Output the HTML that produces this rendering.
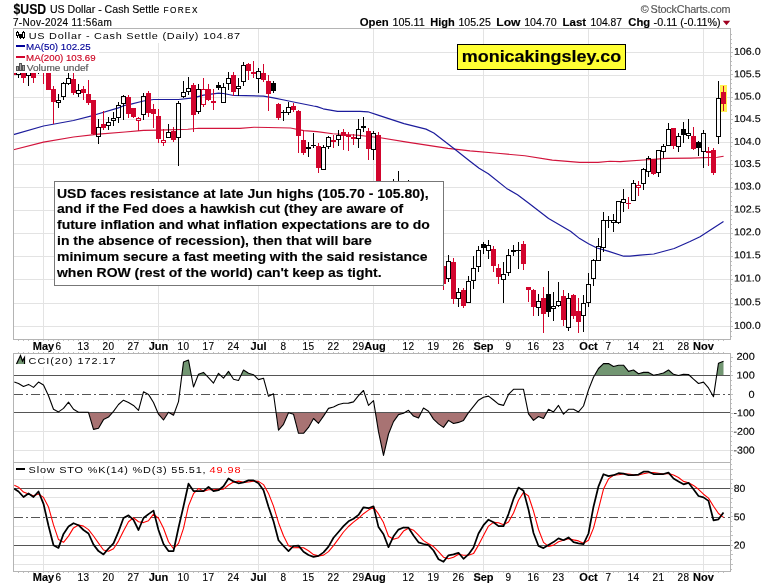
<!DOCTYPE html>
<html><head><meta charset="utf-8"><title>$USD</title><style>html,body{margin:0;padding:0;background:#fff}body{width:766px;height:586px;position:relative;overflow:hidden}svg{display:block}text{white-space:pre;font-family:"Liberation Sans",sans-serif}</style></head>
<body>
<svg width="766" height="586" viewBox="0 0 766 586" style="position:absolute;left:0;top:0">
<rect x="0" y="0" width="766" height="586" fill="#fff"/>
<g shape-rendering="crispEdges" stroke="#e3e3e3" stroke-width="1" fill="none">
<line x1="43.5" y1="28.5" x2="43.5" y2="339.5"/>
<line x1="43.5" y1="353.5" x2="43.5" y2="571.5"/>
<line x1="158.5" y1="28.5" x2="158.5" y2="339.5"/>
<line x1="158.5" y1="353.5" x2="158.5" y2="571.5"/>
<line x1="258.5" y1="28.5" x2="258.5" y2="339.5"/>
<line x1="258.5" y1="353.5" x2="258.5" y2="571.5"/>
<line x1="373.5" y1="28.5" x2="373.5" y2="339.5"/>
<line x1="373.5" y1="353.5" x2="373.5" y2="571.5"/>
<line x1="483.5" y1="28.5" x2="483.5" y2="339.5"/>
<line x1="483.5" y1="353.5" x2="483.5" y2="571.5"/>
<line x1="588.5" y1="28.5" x2="588.5" y2="339.5"/>
<line x1="588.5" y1="353.5" x2="588.5" y2="571.5"/>
<line x1="703.5" y1="28.5" x2="703.5" y2="339.5"/>
<line x1="703.5" y1="353.5" x2="703.5" y2="571.5"/>
<line x1="13.5" y1="52.5" x2="730.5" y2="52.5"/>
<line x1="13.5" y1="75.5" x2="730.5" y2="75.5"/>
<line x1="13.5" y1="97.5" x2="730.5" y2="97.5"/>
<line x1="13.5" y1="119.5" x2="730.5" y2="119.5"/>
<line x1="13.5" y1="142.5" x2="730.5" y2="142.5"/>
<line x1="13.5" y1="164.5" x2="730.5" y2="164.5"/>
<line x1="13.5" y1="187.5" x2="730.5" y2="187.5"/>
<line x1="13.5" y1="210.5" x2="730.5" y2="210.5"/>
<line x1="13.5" y1="233.5" x2="730.5" y2="233.5"/>
<line x1="13.5" y1="256.5" x2="730.5" y2="256.5"/>
<line x1="13.5" y1="279.5" x2="730.5" y2="279.5"/>
<line x1="13.5" y1="303.5" x2="730.5" y2="303.5"/>
<line x1="13.5" y1="326.5" x2="730.5" y2="326.5"/>
<line x1="13.5" y1="431.5" x2="730.5" y2="431.5"/>
<line x1="13.5" y1="450.5" x2="730.5" y2="450.5"/>
<line x1="13.5" y1="469.5" x2="730.5" y2="469.5"/>
<line x1="13.5" y1="479.5" x2="730.5" y2="479.5"/>
<line x1="13.5" y1="497.5" x2="730.5" y2="497.5"/>
<line x1="13.5" y1="507.5" x2="730.5" y2="507.5"/>
<line x1="13.5" y1="526.5" x2="730.5" y2="526.5"/>
<line x1="13.5" y1="536.5" x2="730.5" y2="536.5"/>
<line x1="13.5" y1="555.5" x2="730.5" y2="555.5"/>
<line x1="13.5" y1="564.5" x2="730.5" y2="564.5"/>
</g>
<polygon points="181.8,375.5 183.5,362.1 188.5,360.1 191.4,375.5" fill="#729672"/><polygon points="198.0,375.5 198.5,374.3 203.5,372.4 206.5,375.5" fill="#729672"/><polygon points="217.4,375.5 218.5,373.3 220.7,375.5" fill="#729672"/><polygon points="225.5,375.5 228.5,371.4 231.1,375.5" fill="#729672"/><polygon points="240.9,375.5 243.5,370.0 248.5,373.3 253.5,374.7 254.3,375.5" fill="#729672"/><polygon points="594.5,375.5 598.5,368.5 603.5,363.6 608.5,363.6 613.5,366.5 618.5,365.2 623.5,365.2 628.5,371.4 633.5,370.0 638.5,373.7 643.5,372.4 648.5,372.4 653.5,375.3 658.5,374.3 663.5,373.0 668.5,370.0 673.5,374.3 678.5,375.5" fill="#729672"/><polygon points="678.5,375.5 683.5,374.3 688.5,374.5 689.6,375.5" fill="#729672"/><polygon points="716.7,375.5 718.5,363.2 723.5,361.3 723.5,375.5" fill="#729672"/>
<polygon points="88.6,412.5 93.5,429.4 98.5,428.2 103.5,419.6 108.5,417.1 112.5,412.5" fill="#a87373"/><polygon points="157.8,412.5 158.5,414.2 163.5,420.0 168.4,412.5" fill="#a87373"/><polygon points="168.8,412.5 173.5,415.2 174.5,412.5" fill="#a87373"/><polygon points="276.1,412.5 278.5,430.2 283.5,424.3 288.5,412.8 293.5,414.2 298.5,433.3 303.5,433.3 308.5,427.4 313.5,418.5 318.5,423.3 323.5,416.1 325.8,412.5" fill="#a87373"/><polygon points="375.4,412.5 378.5,431.7 383.5,455.4 388.5,434.0 393.5,421.6 398.5,414.6 403.5,413.2 404.7,412.5" fill="#a87373"/><polygon points="410.4,412.5 413.5,416.1 418.5,418.1 421.3,412.5" fill="#a87373"/><polygon points="429.3,412.5 433.5,419.1 438.5,423.9 443.5,427.4 448.5,420.4 453.5,423.5 458.5,422.4 463.5,420.4 468.5,412.6 468.6,412.5" fill="#a87373"/><polygon points="528.2,412.5 528.5,413.8 533.5,420.4 538.5,416.5 543.5,418.5 546.8,412.5" fill="#a87373"/><polygon points="562.5,412.5 563.5,414.2 565.2,412.5" fill="#a87373"/>
<g shape-rendering="crispEdges" stroke="#555" stroke-width="1" fill="none">
<line x1="13.5" y1="375.5" x2="730.5" y2="375.5"/>
<line x1="13.5" y1="412.5" x2="730.5" y2="412.5"/>
<line x1="13.5" y1="394.5" x2="730.5" y2="394.5" stroke-dasharray="9 3 2 3"/>
<line x1="13.5" y1="488.5" x2="730.5" y2="488.5"/>
<line x1="13.5" y1="545.5" x2="730.5" y2="545.5"/>
<line x1="13.5" y1="517.5" x2="730.5" y2="517.5" stroke-dasharray="9 3 2 3"/>
</g>
<polyline points="13.5,149.8 43.5,142.1 73.5,137.0 98.6,134.1 125.0,132.0 143.5,130.4 158.5,130.1 187.8,129.3 198.8,128.2 240.0,128.4 254.0,127.2 268.3,127.5 290.4,128.0 303.8,130.6 317.0,131.6 332.8,133.8 358.0,135.3 380.4,137.7 407.0,142.1 448.0,148.4 470.0,150.9 497.4,153.3 524.8,155.8 552.3,160.1 579.7,162.4 598.0,162.4 610.0,161.3 620.0,161.6 643.5,160.0 667.0,158.4 690.7,158.1 717.4,157.3 723.6,156.2" fill="none" stroke="#d2143c" stroke-width="1.15" stroke-linejoin="round" />
<polyline points="13.5,134.6 43.5,126.0 73.5,120.5 93.6,115.3 118.4,107.9 125.0,105.3 130.0,104.4 143.5,101.0 153.5,99.5 178.5,99.5 193.5,97.9 203.5,95.2 218.6,93.2 223.5,93.5 233.5,95.5 245.0,95.6 263.5,96.2 273.5,97.8 284.0,100.0 293.5,102.0 313.5,106.0 317.0,106.6 323.2,108.8 337.5,111.3 360.0,111.3 367.9,111.8 378.8,115.4 404.0,123.6 426.0,129.1 433.8,133.0 454.2,148.7 470.0,161.3 479.1,168.3 488.3,173.8 506.6,188.4 517.5,194.8 528.5,203.0 548.6,218.5 570.5,231.3 579.7,238.6 588.5,243.8 597.0,248.0 608.0,251.1 623.7,256.2 630.0,256.2 640.0,255.1 653.8,254.0 674.2,248.5 690.0,241.5 700.0,236.7 723.5,221.5" fill="none" stroke="#1c1c9c" stroke-width="1.2" stroke-linejoin="round" />
<rect x="720" y="85" width="7" height="27" fill="#fff050" shape-rendering="crispEdges"/>
<g shape-rendering="crispEdges">
<rect x="14" y="66" width="2" height="9" fill="#d2042d"/>
<line x1="18.5" y1="66" x2="18.5" y2="68" stroke="#000" stroke-width="1"/>
<line x1="18.5" y1="75" x2="18.5" y2="78" stroke="#000" stroke-width="1"/>
<rect x="16.5" y="68.5" width="4" height="6" fill="none" stroke="#000" stroke-width="1"/>
<line x1="23.5" y1="68" x2="23.5" y2="83" stroke="#d2042d" stroke-width="1"/>
<rect x="21.0" y="70" width="5" height="8" fill="#d2042d"/>
<line x1="28.5" y1="66" x2="28.5" y2="68" stroke="#000" stroke-width="1"/>
<line x1="28.5" y1="76" x2="28.5" y2="86" stroke="#000" stroke-width="1"/>
<rect x="26.5" y="68.5" width="4" height="7" fill="none" stroke="#000" stroke-width="1"/>
<line x1="33.5" y1="68" x2="33.5" y2="83" stroke="#d2042d" stroke-width="1"/>
<rect x="31.0" y="70" width="5" height="8" fill="#d2042d"/>
<line x1="38.5" y1="66" x2="38.5" y2="74" stroke="#000" stroke-width="1"/>
<line x1="36.0" y1="70.5" x2="41.0" y2="70.5" stroke="#000" stroke-width="1"/>
<line x1="43.5" y1="66" x2="43.5" y2="84" stroke="#d2042d" stroke-width="1"/>
<rect x="41.0" y="68" width="5" height="4" fill="#d2042d"/>
<line x1="48.5" y1="66" x2="48.5" y2="90" stroke="#d2042d" stroke-width="1"/>
<rect x="46.0" y="68" width="5" height="22" fill="#d2042d"/>
<line x1="53.5" y1="86" x2="53.5" y2="124" stroke="#d2042d" stroke-width="1"/>
<rect x="51.0" y="89" width="5" height="13" fill="#d2042d"/>
<line x1="58.5" y1="94" x2="58.5" y2="100" stroke="#000" stroke-width="1"/>
<line x1="58.5" y1="103" x2="58.5" y2="108" stroke="#000" stroke-width="1"/>
<rect x="56.5" y="100.5" width="4" height="2" fill="none" stroke="#000" stroke-width="1"/>
<line x1="63.5" y1="82" x2="63.5" y2="83" stroke="#000" stroke-width="1"/>
<line x1="63.5" y1="97" x2="63.5" y2="100" stroke="#000" stroke-width="1"/>
<rect x="61.5" y="83.5" width="4" height="13" fill="none" stroke="#000" stroke-width="1"/>
<line x1="68.5" y1="73" x2="68.5" y2="78" stroke="#000" stroke-width="1"/>
<line x1="68.5" y1="84" x2="68.5" y2="85" stroke="#000" stroke-width="1"/>
<rect x="66.5" y="78.5" width="4" height="5" fill="none" stroke="#000" stroke-width="1"/>
<line x1="73.5" y1="73" x2="73.5" y2="95" stroke="#d2042d" stroke-width="1"/>
<rect x="71.0" y="79" width="5" height="14" fill="#d2042d"/>
<line x1="78.5" y1="84" x2="78.5" y2="90" stroke="#000" stroke-width="1"/>
<line x1="78.5" y1="94" x2="78.5" y2="97" stroke="#000" stroke-width="1"/>
<rect x="76.5" y="90.5" width="4" height="3" fill="none" stroke="#000" stroke-width="1"/>
<line x1="83.5" y1="86" x2="83.5" y2="100" stroke="#d2042d" stroke-width="1"/>
<rect x="81.0" y="89" width="5" height="4" fill="#d2042d"/>
<line x1="88.5" y1="80" x2="88.5" y2="105" stroke="#d2042d" stroke-width="1"/>
<rect x="86.0" y="94" width="5" height="9" fill="#d2042d"/>
<line x1="93.5" y1="100" x2="93.5" y2="135" stroke="#d2042d" stroke-width="1"/>
<rect x="91.0" y="100" width="5" height="34" fill="#d2042d"/>
<line x1="98.5" y1="119" x2="98.5" y2="127" stroke="#000" stroke-width="1"/>
<line x1="98.5" y1="137" x2="98.5" y2="144" stroke="#000" stroke-width="1"/>
<rect x="96.5" y="127.5" width="4" height="9" fill="none" stroke="#000" stroke-width="1"/>
<line x1="103.5" y1="111" x2="103.5" y2="130" stroke="#d2042d" stroke-width="1"/>
<rect x="101.0" y="124" width="5" height="4" fill="#d2042d"/>
<line x1="108.5" y1="117" x2="108.5" y2="122" stroke="#000" stroke-width="1"/>
<line x1="108.5" y1="126" x2="108.5" y2="130" stroke="#000" stroke-width="1"/>
<rect x="106.5" y="122.5" width="4" height="3" fill="none" stroke="#000" stroke-width="1"/>
<line x1="113.5" y1="112" x2="113.5" y2="118" stroke="#000" stroke-width="1"/>
<line x1="113.5" y1="120" x2="113.5" y2="126" stroke="#000" stroke-width="1"/>
<rect x="111.5" y="118.5" width="4" height="2" fill="none" stroke="#000" stroke-width="1"/>
<line x1="118.5" y1="102" x2="118.5" y2="105" stroke="#000" stroke-width="1"/>
<line x1="118.5" y1="118" x2="118.5" y2="123" stroke="#000" stroke-width="1"/>
<rect x="116.5" y="105.5" width="4" height="12" fill="none" stroke="#000" stroke-width="1"/>
<line x1="123.5" y1="95" x2="123.5" y2="96" stroke="#000" stroke-width="1"/>
<line x1="123.5" y1="104" x2="123.5" y2="120" stroke="#000" stroke-width="1"/>
<rect x="121.5" y="96.5" width="4" height="7" fill="none" stroke="#000" stroke-width="1"/>
<line x1="128.5" y1="95" x2="128.5" y2="118" stroke="#d2042d" stroke-width="1"/>
<rect x="126.0" y="97" width="5" height="17" fill="#d2042d"/>
<line x1="133.5" y1="108" x2="133.5" y2="118" stroke="#d2042d" stroke-width="1"/>
<rect x="131.0" y="108" width="5" height="9" fill="#d2042d"/>
<line x1="138.5" y1="117" x2="138.5" y2="118" stroke="#d2042d" stroke-width="1"/>
<line x1="138.5" y1="120" x2="138.5" y2="131" stroke="#d2042d" stroke-width="1"/>
<rect x="136.5" y="118.5" width="4" height="2" fill="none" stroke="#d2042d" stroke-width="1"/>
<line x1="143.5" y1="93" x2="143.5" y2="96" stroke="#000" stroke-width="1"/>
<line x1="143.5" y1="115" x2="143.5" y2="120" stroke="#000" stroke-width="1"/>
<rect x="141.5" y="96.5" width="4" height="18" fill="none" stroke="#000" stroke-width="1"/>
<line x1="148.5" y1="91" x2="148.5" y2="117" stroke="#d2042d" stroke-width="1"/>
<rect x="146.0" y="93" width="5" height="20" fill="#d2042d"/>
<line x1="153.5" y1="104" x2="153.5" y2="128" stroke="#d2042d" stroke-width="1"/>
<rect x="151.0" y="109" width="5" height="5" fill="#d2042d"/>
<line x1="158.5" y1="109" x2="158.5" y2="143" stroke="#d2042d" stroke-width="1"/>
<rect x="156.0" y="116" width="5" height="23" fill="#d2042d"/>
<line x1="163.5" y1="129" x2="163.5" y2="140" stroke="#d2042d" stroke-width="1"/>
<line x1="163.5" y1="142" x2="163.5" y2="146" stroke="#d2042d" stroke-width="1"/>
<rect x="161.5" y="140.5" width="4" height="2" fill="none" stroke="#d2042d" stroke-width="1"/>
<line x1="168.5" y1="124" x2="168.5" y2="132" stroke="#000" stroke-width="1"/>
<line x1="168.5" y1="138" x2="168.5" y2="138" stroke="#000" stroke-width="1"/>
<rect x="166.5" y="132.5" width="4" height="5" fill="none" stroke="#000" stroke-width="1"/>
<line x1="173.5" y1="127" x2="173.5" y2="142" stroke="#d2042d" stroke-width="1"/>
<rect x="171.0" y="131" width="5" height="9" fill="#d2042d"/>
<line x1="178.5" y1="101" x2="178.5" y2="103" stroke="#000" stroke-width="1"/>
<line x1="178.5" y1="138" x2="178.5" y2="166" stroke="#000" stroke-width="1"/>
<rect x="176.5" y="103.5" width="4" height="34" fill="none" stroke="#000" stroke-width="1"/>
<line x1="183.5" y1="81" x2="183.5" y2="92" stroke="#000" stroke-width="1"/>
<line x1="183.5" y1="97" x2="183.5" y2="98" stroke="#000" stroke-width="1"/>
<rect x="181.5" y="92.5" width="4" height="4" fill="none" stroke="#000" stroke-width="1"/>
<line x1="188.5" y1="77" x2="188.5" y2="88" stroke="#000" stroke-width="1"/>
<line x1="188.5" y1="92" x2="188.5" y2="95" stroke="#000" stroke-width="1"/>
<rect x="186.5" y="88.5" width="4" height="3" fill="none" stroke="#000" stroke-width="1"/>
<line x1="193.5" y1="83" x2="193.5" y2="132" stroke="#d2042d" stroke-width="1"/>
<rect x="191.0" y="85" width="5" height="30" fill="#d2042d"/>
<line x1="198.5" y1="84" x2="198.5" y2="89" stroke="#000" stroke-width="1"/>
<line x1="198.5" y1="112" x2="198.5" y2="114" stroke="#000" stroke-width="1"/>
<rect x="196.5" y="89.5" width="4" height="22" fill="none" stroke="#000" stroke-width="1"/>
<line x1="203.5" y1="78" x2="203.5" y2="89" stroke="#d2042d" stroke-width="1"/>
<line x1="203.5" y1="105" x2="203.5" y2="107" stroke="#d2042d" stroke-width="1"/>
<rect x="201.5" y="89.5" width="4" height="15" fill="none" stroke="#d2042d" stroke-width="1"/>
<line x1="208.5" y1="84" x2="208.5" y2="101" stroke="#d2042d" stroke-width="1"/>
<rect x="206.0" y="89" width="5" height="11" fill="#d2042d"/>
<line x1="213.5" y1="89" x2="213.5" y2="110" stroke="#d2042d" stroke-width="1"/>
<rect x="211.0" y="101" width="5" height="2" fill="#d2042d"/>
<line x1="218.5" y1="82" x2="218.5" y2="90" stroke="#000" stroke-width="1"/>
<rect x="216.0" y="85" width="5" height="3" fill="#000"/>
<line x1="223.5" y1="83" x2="223.5" y2="87" stroke="#000" stroke-width="1"/>
<line x1="223.5" y1="103" x2="223.5" y2="103" stroke="#000" stroke-width="1"/>
<rect x="221.5" y="87.5" width="4" height="15" fill="none" stroke="#000" stroke-width="1"/>
<line x1="228.5" y1="72" x2="228.5" y2="78" stroke="#000" stroke-width="1"/>
<line x1="228.5" y1="84" x2="228.5" y2="90" stroke="#000" stroke-width="1"/>
<rect x="226.5" y="78.5" width="4" height="5" fill="none" stroke="#000" stroke-width="1"/>
<line x1="233.5" y1="72" x2="233.5" y2="96" stroke="#d2042d" stroke-width="1"/>
<rect x="231.0" y="75" width="5" height="17" fill="#d2042d"/>
<line x1="238.5" y1="78" x2="238.5" y2="86" stroke="#000" stroke-width="1"/>
<line x1="238.5" y1="89" x2="238.5" y2="96" stroke="#000" stroke-width="1"/>
<rect x="236.5" y="86.5" width="4" height="2" fill="none" stroke="#000" stroke-width="1"/>
<line x1="243.5" y1="62" x2="243.5" y2="65" stroke="#000" stroke-width="1"/>
<line x1="243.5" y1="82" x2="243.5" y2="86" stroke="#000" stroke-width="1"/>
<rect x="241.5" y="65.5" width="4" height="16" fill="none" stroke="#000" stroke-width="1"/>
<line x1="248.5" y1="63" x2="248.5" y2="80" stroke="#d2042d" stroke-width="1"/>
<rect x="246.0" y="64" width="5" height="7" fill="#d2042d"/>
<line x1="253.5" y1="61" x2="253.5" y2="78" stroke="#d2042d" stroke-width="1"/>
<rect x="251.0" y="72" width="5" height="2" fill="#d2042d"/>
<line x1="258.5" y1="68" x2="258.5" y2="71" stroke="#000" stroke-width="1"/>
<line x1="258.5" y1="79" x2="258.5" y2="93" stroke="#000" stroke-width="1"/>
<rect x="256.5" y="71.5" width="4" height="7" fill="none" stroke="#000" stroke-width="1"/>
<line x1="263.5" y1="64" x2="263.5" y2="82" stroke="#d2042d" stroke-width="1"/>
<rect x="261.0" y="73" width="5" height="7" fill="#d2042d"/>
<line x1="268.5" y1="75" x2="268.5" y2="111" stroke="#d2042d" stroke-width="1"/>
<rect x="266.0" y="81" width="5" height="13" fill="#d2042d"/>
<line x1="273.5" y1="81" x2="273.5" y2="93" stroke="#000" stroke-width="1"/>
<rect x="271.0" y="83" width="5" height="8" fill="#000"/>
<line x1="278.5" y1="103" x2="278.5" y2="120" stroke="#d2042d" stroke-width="1"/>
<rect x="276.0" y="104" width="5" height="14" fill="#d2042d"/>
<line x1="283.5" y1="110" x2="283.5" y2="121" stroke="#000" stroke-width="1"/>
<line x1="281.0" y1="112.5" x2="286.0" y2="112.5" stroke="#000" stroke-width="1"/>
<line x1="288.5" y1="102" x2="288.5" y2="107" stroke="#000" stroke-width="1"/>
<line x1="288.5" y1="113" x2="288.5" y2="115" stroke="#000" stroke-width="1"/>
<rect x="286.5" y="107.5" width="4" height="5" fill="none" stroke="#000" stroke-width="1"/>
<line x1="293.5" y1="103" x2="293.5" y2="112" stroke="#d2042d" stroke-width="1"/>
<rect x="291.0" y="106" width="5" height="4" fill="#d2042d"/>
<line x1="298.5" y1="110" x2="298.5" y2="153" stroke="#d2042d" stroke-width="1"/>
<rect x="296.0" y="111" width="5" height="25" fill="#d2042d"/>
<line x1="303.5" y1="131" x2="303.5" y2="155" stroke="#d2042d" stroke-width="1"/>
<rect x="301.0" y="140" width="5" height="13" fill="#d2042d"/>
<line x1="308.5" y1="142" x2="308.5" y2="157" stroke="#000" stroke-width="1"/>
<rect x="306.0" y="147" width="5" height="2" fill="#000"/>
<line x1="313.5" y1="133" x2="313.5" y2="148" stroke="#000" stroke-width="1"/>
<line x1="311.0" y1="145.5" x2="316.0" y2="145.5" stroke="#000" stroke-width="1"/>
<line x1="318.5" y1="143" x2="318.5" y2="173" stroke="#d2042d" stroke-width="1"/>
<rect x="316.0" y="146" width="5" height="22" fill="#d2042d"/>
<line x1="323.5" y1="145" x2="323.5" y2="147" stroke="#000" stroke-width="1"/>
<line x1="323.5" y1="170" x2="323.5" y2="170" stroke="#000" stroke-width="1"/>
<rect x="321.5" y="147.5" width="4" height="22" fill="none" stroke="#000" stroke-width="1"/>
<line x1="328.5" y1="136" x2="328.5" y2="137" stroke="#000" stroke-width="1"/>
<line x1="328.5" y1="147" x2="328.5" y2="149" stroke="#000" stroke-width="1"/>
<rect x="326.5" y="137.5" width="4" height="9" fill="none" stroke="#000" stroke-width="1"/>
<line x1="333.5" y1="135" x2="333.5" y2="148" stroke="#d2042d" stroke-width="1"/>
<rect x="331.0" y="140" width="5" height="2" fill="#d2042d"/>
<line x1="338.5" y1="130" x2="338.5" y2="135" stroke="#000" stroke-width="1"/>
<line x1="338.5" y1="140" x2="338.5" y2="146" stroke="#000" stroke-width="1"/>
<rect x="336.5" y="135.5" width="4" height="4" fill="none" stroke="#000" stroke-width="1"/>
<line x1="343.5" y1="129" x2="343.5" y2="150" stroke="#d2042d" stroke-width="1"/>
<rect x="341.0" y="132" width="5" height="4" fill="#d2042d"/>
<line x1="348.5" y1="132" x2="348.5" y2="151" stroke="#d2042d" stroke-width="1"/>
<rect x="346.0" y="135" width="5" height="2" fill="#d2042d"/>
<line x1="353.5" y1="134" x2="353.5" y2="145" stroke="#d2042d" stroke-width="1"/>
<rect x="351.0" y="137" width="5" height="2" fill="#d2042d"/>
<line x1="358.5" y1="119" x2="358.5" y2="129" stroke="#000" stroke-width="1"/>
<line x1="358.5" y1="139" x2="358.5" y2="148" stroke="#000" stroke-width="1"/>
<rect x="356.5" y="129.5" width="4" height="9" fill="none" stroke="#000" stroke-width="1"/>
<line x1="363.5" y1="117" x2="363.5" y2="132" stroke="#000" stroke-width="1"/>
<rect x="361.0" y="126" width="5" height="2" fill="#000"/>
<line x1="368.5" y1="128" x2="368.5" y2="160" stroke="#d2042d" stroke-width="1"/>
<rect x="366.0" y="131" width="5" height="18" fill="#d2042d"/>
<line x1="373.5" y1="131" x2="373.5" y2="133" stroke="#000" stroke-width="1"/>
<line x1="373.5" y1="150" x2="373.5" y2="160" stroke="#000" stroke-width="1"/>
<rect x="371.5" y="133.5" width="4" height="16" fill="none" stroke="#000" stroke-width="1"/>
<line x1="378.5" y1="132" x2="378.5" y2="200" stroke="#d2042d" stroke-width="1"/>
<rect x="376.0" y="135" width="5" height="65" fill="#d2042d"/>
<line x1="393.5" y1="179" x2="393.5" y2="190" stroke="#000" stroke-width="1"/>
<line x1="391.0" y1="190.5" x2="396.0" y2="190.5" stroke="#000" stroke-width="1"/>
<line x1="398.5" y1="171" x2="398.5" y2="190" stroke="#000" stroke-width="1"/>
<line x1="396.0" y1="190.5" x2="401.0" y2="190.5" stroke="#000" stroke-width="1"/>
<line x1="408.5" y1="180" x2="408.5" y2="190" stroke="#000" stroke-width="1"/>
<line x1="406.0" y1="190.5" x2="411.0" y2="190.5" stroke="#000" stroke-width="1"/>
<line x1="443.5" y1="265" x2="443.5" y2="290" stroke="#d2042d" stroke-width="1"/>
<rect x="441.0" y="266" width="5" height="18" fill="#d2042d"/>
<line x1="448.5" y1="255" x2="448.5" y2="261" stroke="#000" stroke-width="1"/>
<line x1="448.5" y1="279" x2="448.5" y2="282" stroke="#000" stroke-width="1"/>
<rect x="446.5" y="261.5" width="4" height="17" fill="none" stroke="#000" stroke-width="1"/>
<line x1="453.5" y1="258" x2="453.5" y2="304" stroke="#d2042d" stroke-width="1"/>
<rect x="451.0" y="262" width="5" height="37" fill="#d2042d"/>
<line x1="458.5" y1="288" x2="458.5" y2="292" stroke="#000" stroke-width="1"/>
<line x1="458.5" y1="299" x2="458.5" y2="307" stroke="#000" stroke-width="1"/>
<rect x="456.5" y="292.5" width="4" height="6" fill="none" stroke="#000" stroke-width="1"/>
<line x1="463.5" y1="288" x2="463.5" y2="308" stroke="#d2042d" stroke-width="1"/>
<rect x="461.0" y="290" width="5" height="16" fill="#d2042d"/>
<line x1="468.5" y1="276" x2="468.5" y2="281" stroke="#000" stroke-width="1"/>
<line x1="468.5" y1="303" x2="468.5" y2="303" stroke="#000" stroke-width="1"/>
<rect x="466.5" y="281.5" width="4" height="21" fill="none" stroke="#000" stroke-width="1"/>
<line x1="473.5" y1="256" x2="473.5" y2="268" stroke="#000" stroke-width="1"/>
<line x1="473.5" y1="281" x2="473.5" y2="289" stroke="#000" stroke-width="1"/>
<rect x="471.5" y="268.5" width="4" height="12" fill="none" stroke="#000" stroke-width="1"/>
<line x1="478.5" y1="246" x2="478.5" y2="250" stroke="#000" stroke-width="1"/>
<line x1="478.5" y1="267" x2="478.5" y2="272" stroke="#000" stroke-width="1"/>
<rect x="476.5" y="250.5" width="4" height="16" fill="none" stroke="#000" stroke-width="1"/>
<line x1="483.5" y1="242" x2="483.5" y2="254" stroke="#000" stroke-width="1"/>
<rect x="481.0" y="244" width="5" height="4" fill="#000"/>
<line x1="488.5" y1="240" x2="488.5" y2="245" stroke="#000" stroke-width="1"/>
<line x1="488.5" y1="251" x2="488.5" y2="259" stroke="#000" stroke-width="1"/>
<rect x="486.5" y="245.5" width="4" height="5" fill="none" stroke="#000" stroke-width="1"/>
<line x1="493.5" y1="246" x2="493.5" y2="272" stroke="#d2042d" stroke-width="1"/>
<rect x="491.0" y="249" width="5" height="17" fill="#d2042d"/>
<line x1="498.5" y1="264" x2="498.5" y2="284" stroke="#d2042d" stroke-width="1"/>
<rect x="496.0" y="268" width="5" height="9" fill="#d2042d"/>
<line x1="503.5" y1="262" x2="503.5" y2="274" stroke="#000" stroke-width="1"/>
<line x1="503.5" y1="280" x2="503.5" y2="303" stroke="#000" stroke-width="1"/>
<rect x="501.5" y="274.5" width="4" height="5" fill="none" stroke="#000" stroke-width="1"/>
<line x1="508.5" y1="249" x2="508.5" y2="255" stroke="#000" stroke-width="1"/>
<line x1="508.5" y1="273" x2="508.5" y2="276" stroke="#000" stroke-width="1"/>
<rect x="506.5" y="255.5" width="4" height="17" fill="none" stroke="#000" stroke-width="1"/>
<line x1="513.5" y1="245" x2="513.5" y2="256" stroke="#000" stroke-width="1"/>
<rect x="511.0" y="250" width="5" height="2" fill="#000"/>
<line x1="518.5" y1="242" x2="518.5" y2="269" stroke="#000" stroke-width="1"/>
<line x1="516.0" y1="250.5" x2="521.0" y2="250.5" stroke="#000" stroke-width="1"/>
<line x1="523.5" y1="241" x2="523.5" y2="270" stroke="#d2042d" stroke-width="1"/>
<rect x="521.0" y="244" width="5" height="20" fill="#d2042d"/>
<line x1="528.5" y1="287" x2="528.5" y2="302" stroke="#d2042d" stroke-width="1"/>
<rect x="526.0" y="287" width="5" height="3" fill="#d2042d"/>
<line x1="533.5" y1="289" x2="533.5" y2="316" stroke="#d2042d" stroke-width="1"/>
<rect x="531.0" y="290" width="5" height="17" fill="#d2042d"/>
<line x1="538.5" y1="294" x2="538.5" y2="301" stroke="#000" stroke-width="1"/>
<line x1="538.5" y1="308" x2="538.5" y2="316" stroke="#000" stroke-width="1"/>
<rect x="536.5" y="301.5" width="4" height="6" fill="none" stroke="#000" stroke-width="1"/>
<line x1="543.5" y1="287" x2="543.5" y2="333" stroke="#d2042d" stroke-width="1"/>
<rect x="541.0" y="298" width="5" height="16" fill="#d2042d"/>
<line x1="548.5" y1="271" x2="548.5" y2="317" stroke="#000" stroke-width="1"/>
<rect x="546.0" y="294" width="5" height="18" fill="#000"/>
<line x1="553.5" y1="292" x2="553.5" y2="306" stroke="#000" stroke-width="1"/>
<line x1="553.5" y1="308" x2="553.5" y2="321" stroke="#000" stroke-width="1"/>
<rect x="551.5" y="306.5" width="4" height="2" fill="none" stroke="#000" stroke-width="1"/>
<line x1="558.5" y1="282" x2="558.5" y2="301" stroke="#000" stroke-width="1"/>
<line x1="558.5" y1="306" x2="558.5" y2="307" stroke="#000" stroke-width="1"/>
<rect x="556.5" y="301.5" width="4" height="4" fill="none" stroke="#000" stroke-width="1"/>
<line x1="563.5" y1="290" x2="563.5" y2="326" stroke="#d2042d" stroke-width="1"/>
<rect x="561.0" y="296" width="5" height="24" fill="#d2042d"/>
<line x1="568.5" y1="293" x2="568.5" y2="298" stroke="#000" stroke-width="1"/>
<line x1="568.5" y1="328" x2="568.5" y2="331" stroke="#000" stroke-width="1"/>
<rect x="566.5" y="298.5" width="4" height="29" fill="none" stroke="#000" stroke-width="1"/>
<line x1="573.5" y1="294" x2="573.5" y2="319" stroke="#d2042d" stroke-width="1"/>
<rect x="571.0" y="295" width="5" height="21" fill="#d2042d"/>
<line x1="578.5" y1="298" x2="578.5" y2="333" stroke="#d2042d" stroke-width="1"/>
<rect x="576.0" y="311" width="5" height="11" fill="#d2042d"/>
<line x1="583.5" y1="295" x2="583.5" y2="303" stroke="#000" stroke-width="1"/>
<line x1="583.5" y1="316" x2="583.5" y2="332" stroke="#000" stroke-width="1"/>
<rect x="581.5" y="303.5" width="4" height="12" fill="none" stroke="#000" stroke-width="1"/>
<line x1="588.5" y1="273" x2="588.5" y2="284" stroke="#000" stroke-width="1"/>
<line x1="588.5" y1="303" x2="588.5" y2="307" stroke="#000" stroke-width="1"/>
<rect x="586.5" y="284.5" width="4" height="18" fill="none" stroke="#000" stroke-width="1"/>
<line x1="593.5" y1="259" x2="593.5" y2="260" stroke="#000" stroke-width="1"/>
<line x1="593.5" y1="279" x2="593.5" y2="286" stroke="#000" stroke-width="1"/>
<rect x="591.5" y="260.5" width="4" height="18" fill="none" stroke="#000" stroke-width="1"/>
<line x1="598.5" y1="238" x2="598.5" y2="246" stroke="#000" stroke-width="1"/>
<line x1="598.5" y1="261" x2="598.5" y2="261" stroke="#000" stroke-width="1"/>
<rect x="596.5" y="246.5" width="4" height="14" fill="none" stroke="#000" stroke-width="1"/>
<line x1="603.5" y1="212" x2="603.5" y2="220" stroke="#000" stroke-width="1"/>
<line x1="603.5" y1="248" x2="603.5" y2="252" stroke="#000" stroke-width="1"/>
<rect x="601.5" y="220.5" width="4" height="27" fill="none" stroke="#000" stroke-width="1"/>
<line x1="608.5" y1="216" x2="608.5" y2="228" stroke="#000" stroke-width="1"/>
<line x1="606.0" y1="220.5" x2="611.0" y2="220.5" stroke="#000" stroke-width="1"/>
<line x1="613.5" y1="214" x2="613.5" y2="220" stroke="#000" stroke-width="1"/>
<line x1="613.5" y1="222" x2="613.5" y2="232" stroke="#000" stroke-width="1"/>
<rect x="611.5" y="220.5" width="4" height="2" fill="none" stroke="#000" stroke-width="1"/>
<line x1="618.5" y1="201" x2="618.5" y2="201" stroke="#000" stroke-width="1"/>
<line x1="618.5" y1="223" x2="618.5" y2="224" stroke="#000" stroke-width="1"/>
<rect x="616.5" y="201.5" width="4" height="21" fill="none" stroke="#000" stroke-width="1"/>
<line x1="623.5" y1="189" x2="623.5" y2="199" stroke="#000" stroke-width="1"/>
<line x1="623.5" y1="203" x2="623.5" y2="212" stroke="#000" stroke-width="1"/>
<rect x="621.5" y="199.5" width="4" height="3" fill="none" stroke="#000" stroke-width="1"/>
<line x1="628.5" y1="197" x2="628.5" y2="209" stroke="#d2042d" stroke-width="1"/>
<line x1="626.0" y1="203.5" x2="631.0" y2="203.5" stroke="#d2042d" stroke-width="1"/>
<line x1="633.5" y1="180" x2="633.5" y2="183" stroke="#000" stroke-width="1"/>
<line x1="633.5" y1="201" x2="633.5" y2="201" stroke="#000" stroke-width="1"/>
<rect x="631.5" y="183.5" width="4" height="17" fill="none" stroke="#000" stroke-width="1"/>
<line x1="638.5" y1="181" x2="638.5" y2="185" stroke="#d2042d" stroke-width="1"/>
<line x1="638.5" y1="187" x2="638.5" y2="196" stroke="#d2042d" stroke-width="1"/>
<rect x="636.5" y="185.5" width="4" height="2" fill="none" stroke="#d2042d" stroke-width="1"/>
<line x1="643.5" y1="168" x2="643.5" y2="169" stroke="#000" stroke-width="1"/>
<line x1="643.5" y1="184" x2="643.5" y2="190" stroke="#000" stroke-width="1"/>
<rect x="641.5" y="169.5" width="4" height="14" fill="none" stroke="#000" stroke-width="1"/>
<line x1="648.5" y1="156" x2="648.5" y2="158" stroke="#000" stroke-width="1"/>
<line x1="648.5" y1="172" x2="648.5" y2="177" stroke="#000" stroke-width="1"/>
<rect x="646.5" y="158.5" width="4" height="13" fill="none" stroke="#000" stroke-width="1"/>
<line x1="653.5" y1="159" x2="653.5" y2="175" stroke="#d2042d" stroke-width="1"/>
<rect x="651.0" y="159" width="5" height="15" fill="#d2042d"/>
<line x1="658.5" y1="150" x2="658.5" y2="150" stroke="#000" stroke-width="1"/>
<line x1="658.5" y1="173" x2="658.5" y2="177" stroke="#000" stroke-width="1"/>
<rect x="656.5" y="150.5" width="4" height="22" fill="none" stroke="#000" stroke-width="1"/>
<line x1="663.5" y1="144" x2="663.5" y2="146" stroke="#000" stroke-width="1"/>
<line x1="663.5" y1="152" x2="663.5" y2="158" stroke="#000" stroke-width="1"/>
<rect x="661.5" y="146.5" width="4" height="5" fill="none" stroke="#000" stroke-width="1"/>
<line x1="668.5" y1="123" x2="668.5" y2="129" stroke="#000" stroke-width="1"/>
<line x1="668.5" y1="146" x2="668.5" y2="146" stroke="#000" stroke-width="1"/>
<rect x="666.5" y="129.5" width="4" height="16" fill="none" stroke="#000" stroke-width="1"/>
<line x1="673.5" y1="128" x2="673.5" y2="149" stroke="#d2042d" stroke-width="1"/>
<rect x="671.0" y="128" width="5" height="18" fill="#d2042d"/>
<line x1="678.5" y1="133" x2="678.5" y2="136" stroke="#000" stroke-width="1"/>
<line x1="678.5" y1="147" x2="678.5" y2="152" stroke="#000" stroke-width="1"/>
<rect x="676.5" y="136.5" width="4" height="10" fill="none" stroke="#000" stroke-width="1"/>
<line x1="683.5" y1="122" x2="683.5" y2="143" stroke="#000" stroke-width="1"/>
<rect x="681.0" y="129" width="5" height="6" fill="#000"/>
<line x1="688.5" y1="119" x2="688.5" y2="133" stroke="#000" stroke-width="1"/>
<line x1="688.5" y1="136" x2="688.5" y2="139" stroke="#000" stroke-width="1"/>
<rect x="686.5" y="133.5" width="4" height="2" fill="none" stroke="#000" stroke-width="1"/>
<line x1="693.5" y1="127" x2="693.5" y2="150" stroke="#d2042d" stroke-width="1"/>
<rect x="691.0" y="136" width="5" height="13" fill="#d2042d"/>
<line x1="698.5" y1="141" x2="698.5" y2="156" stroke="#000" stroke-width="1"/>
<rect x="696.0" y="142" width="5" height="6" fill="#000"/>
<line x1="703.5" y1="130" x2="703.5" y2="133" stroke="#000" stroke-width="1"/>
<line x1="703.5" y1="152" x2="703.5" y2="168" stroke="#000" stroke-width="1"/>
<rect x="701.5" y="133.5" width="4" height="18" fill="none" stroke="#000" stroke-width="1"/>
<line x1="708.5" y1="147" x2="708.5" y2="166" stroke="#d2042d" stroke-width="1"/>
<rect x="706.0" y="151" width="5" height="2" fill="#d2042d"/>
<line x1="713.5" y1="148" x2="713.5" y2="175" stroke="#d2042d" stroke-width="1"/>
<rect x="711.0" y="150" width="5" height="23" fill="#d2042d"/>
<line x1="718.5" y1="81" x2="718.5" y2="98" stroke="#000" stroke-width="1"/>
<line x1="718.5" y1="137" x2="718.5" y2="144" stroke="#000" stroke-width="1"/>
<rect x="716.5" y="98.5" width="4" height="38" fill="none" stroke="#000" stroke-width="1"/>
<line x1="723.5" y1="86" x2="723.5" y2="111" stroke="#d2042d" stroke-width="1"/>
<rect x="721.0" y="92" width="5" height="12" fill="#d2042d"/>
</g>
<polyline points="14.3,382.1 18.5,383.5 23.5,386.4 28.5,384.4 33.5,387.4 38.5,382.1 43.5,385.0 48.5,395.7 53.5,409.3 58.5,411.9 63.5,408.4 68.5,402.1 73.5,409.3 78.5,412.3 83.5,412.3 88.5,412.3 93.5,429.4 98.5,428.2 103.5,419.6 108.5,417.1 113.5,411.3 118.5,404.5 123.5,400.2 128.5,402.5 133.5,405.4 138.5,410.3 143.5,391.8 148.5,394.4 153.5,402.5 158.5,414.2 163.5,420.0 168.5,412.3 173.5,415.2 178.5,401.6 183.5,362.1 188.5,360.1 193.5,387.0 198.5,374.3 203.5,372.4 208.5,377.6 213.5,383.1 218.5,373.3 223.5,378.2 228.5,371.4 233.5,379.2 238.5,380.5 243.5,370.0 248.5,373.3 253.5,374.7 258.5,379.6 263.5,378.2 268.5,396.3 273.5,393.8 278.5,430.2 283.5,424.3 288.5,412.8 293.5,414.2 298.5,433.3 303.5,433.3 308.5,427.4 313.5,418.5 318.5,423.3 323.5,416.1 328.5,408.4 333.5,407.0 338.5,404.5 343.5,403.3 348.5,403.1 353.5,401.9 358.5,395.7 363.5,390.5 368.5,405.4 373.5,400.6 378.5,431.7 383.5,455.4 388.5,434.0 393.5,421.6 398.5,414.6 403.5,413.2 408.5,410.3 413.5,416.1 418.5,418.1 423.5,408.0 428.5,411.3 433.5,419.1 438.5,423.9 443.5,427.4 448.5,420.4 453.5,423.5 458.5,422.4 463.5,420.4 468.5,412.6 473.5,406.4 478.5,400.2 483.5,397.3 488.5,396.1 493.5,400.0 498.5,404.1 503.5,405.4 508.5,394.4 513.5,389.3 518.5,389.3 523.5,389.3 528.5,413.8 533.5,420.4 538.5,416.5 543.5,418.5 548.5,409.3 553.5,411.9 558.5,405.4 563.5,414.2 568.5,409.3 573.5,409.3 578.5,411.9 583.5,406.0 588.5,389.9 593.5,377.2 598.5,368.5 603.5,363.6 608.5,363.6 613.5,366.5 618.5,365.2 623.5,365.2 628.5,371.4 633.5,370.0 638.5,373.7 643.5,372.4 648.5,372.4 653.5,375.3 658.5,374.3 663.5,373.0 668.5,370.0 673.5,374.3 678.5,375.5 683.5,374.3 688.5,374.5 693.5,379.2 698.5,383.5 703.5,382.1 708.5,387.9 713.5,396.7 718.5,363.2 723.5,361.3" fill="none" stroke="#000" stroke-width="1.1" stroke-linejoin="round" />
<polyline points="14.3,485.3 18.5,487.2 23.5,492.1 28.5,494.0 33.5,495.8 38.5,494.0 43.5,497.4 48.5,507.0 53.5,524.9 58.5,539.6 63.5,542.3 68.5,536.1 73.5,527.9 78.5,525.0 83.5,526.1 88.5,529.6 93.5,536.0 98.5,543.1 103.5,550.0 108.5,551.3 113.5,548.7 118.5,541.1 123.5,531.0 128.5,521.7 133.5,517.8 138.5,521.8 143.5,522.6 148.5,520.7 153.5,514.2 158.5,518.2 163.5,528.2 168.5,541.7 173.5,548.7 178.5,543.3 183.5,528.4 188.5,505.9 193.5,493.7 198.5,488.6 203.5,491.1 208.5,489.7 213.5,489.7 218.5,489.4 223.5,489.2 228.5,485.0 233.5,482.1 238.5,481.1 243.5,482.4 248.5,482.0 253.5,481.1 258.5,481.4 263.5,484.6 268.5,493.4 273.5,506.1 278.5,522.7 283.5,535.8 288.5,545.8 293.5,547.7 298.5,547.6 303.5,547.8 308.5,550.8 313.5,554.6 318.5,555.9 323.5,555.1 328.5,551.6 333.5,545.6 338.5,538.8 343.5,532.0 348.5,526.5 353.5,522.1 358.5,518.3 363.5,513.7 368.5,510.1 373.5,507.3 378.5,513.9 383.5,522.6 388.5,536.2 393.5,539.3 398.5,537.7 403.5,531.1 408.5,528.3 413.5,530.2 418.5,535.2 423.5,540.6 428.5,543.8 433.5,546.6 438.5,551.6 443.5,557.2 448.5,558.8 453.5,557.2 458.5,554.2 463.5,555.3 468.5,555.3 473.5,553.6 478.5,545.1 483.5,535.4 488.5,526.1 493.5,522.4 498.5,522.7 503.5,524.8 508.5,522.1 513.5,513.0 518.5,500.2 523.5,492.4 528.5,496.0 533.5,511.1 538.5,529.5 543.5,542.4 548.5,546.4 553.5,545.1 558.5,541.8 563.5,540.2 568.5,538.7 573.5,539.9 578.5,540.9 583.5,543.2 588.5,540.3 593.5,528.1 598.5,508.8 603.5,489.1 608.5,478.9 613.5,475.2 618.5,474.8 623.5,474.0 628.5,474.0 633.5,474.7 638.5,475.0 643.5,473.8 648.5,472.7 653.5,472.5 658.5,473.2 663.5,474.0 668.5,473.5 673.5,475.0 678.5,477.5 683.5,481.4 688.5,482.8 693.5,485.4 698.5,489.3 703.5,494.2 708.5,498.1 713.5,506.2 718.5,513.5 723.5,517.4" fill="none" stroke="#ff0000" stroke-width="1.1" stroke-linejoin="round" />
<polyline points="14.3,488.8 18.5,491.5 23.5,497.0 28.5,493.5 33.5,497.0 38.5,491.5 43.5,503.8 48.5,525.8 53.5,545.2 58.5,547.9 63.5,533.9 68.5,526.5 73.5,523.2 78.5,525.2 83.5,530.0 88.5,533.5 93.5,544.6 98.5,551.1 103.5,554.4 108.5,548.5 113.5,543.3 118.5,531.6 123.5,518.0 128.5,515.4 133.5,519.9 138.5,530.0 143.5,518.0 148.5,514.1 153.5,510.6 158.5,530.0 163.5,544.0 168.5,551.1 173.5,551.1 178.5,527.7 183.5,506.3 188.5,483.7 193.5,491.1 198.5,491.1 203.5,491.1 208.5,486.8 213.5,491.1 218.5,490.2 223.5,486.3 228.5,478.5 233.5,481.4 238.5,483.3 243.5,482.4 248.5,480.4 253.5,480.4 258.5,483.3 263.5,490.2 268.5,506.7 273.5,521.3 278.5,540.2 283.5,546.0 288.5,551.1 293.5,546.0 298.5,545.6 303.5,551.8 308.5,555.0 313.5,556.9 318.5,555.9 323.5,552.4 328.5,546.6 333.5,537.8 338.5,532.0 343.5,526.1 348.5,521.3 353.5,518.8 358.5,514.9 363.5,507.3 368.5,508.2 373.5,506.3 378.5,527.1 383.5,534.3 388.5,547.2 393.5,536.3 398.5,529.6 403.5,527.5 408.5,527.7 413.5,535.5 418.5,542.3 423.5,544.0 428.5,545.2 433.5,550.5 438.5,559.2 443.5,561.8 448.5,555.3 453.5,554.4 458.5,552.8 463.5,558.8 468.5,554.4 473.5,547.5 478.5,533.5 483.5,525.2 488.5,519.7 493.5,522.3 498.5,526.1 503.5,526.1 508.5,514.1 513.5,498.9 518.5,487.6 523.5,490.7 528.5,509.6 533.5,533.0 538.5,546.0 543.5,548.1 548.5,545.0 553.5,542.1 558.5,538.4 563.5,540.2 568.5,537.4 573.5,542.1 578.5,543.3 583.5,544.2 588.5,533.5 593.5,506.7 598.5,486.3 603.5,474.2 608.5,476.1 613.5,475.2 618.5,473.2 623.5,473.6 628.5,475.2 633.5,475.2 638.5,474.6 643.5,471.7 648.5,471.7 653.5,474.0 658.5,474.0 663.5,474.0 668.5,472.6 673.5,478.5 678.5,481.4 683.5,484.3 688.5,482.8 693.5,489.2 698.5,496.0 703.5,497.4 708.5,500.9 713.5,520.3 718.5,519.3 723.5,512.5" fill="none" stroke="#000" stroke-width="1.75" stroke-linejoin="round" />
<rect x="14" y="29" width="228" height="14" fill="#fff"/>
<rect x="14" y="43" width="85" height="30" fill="#fff"/>
<rect x="14" y="354" width="104" height="13" fill="#fff"/>
<rect x="14" y="463" width="229" height="13" fill="#fff"/>
<g shape-rendering="crispEdges" stroke="#b4b4b4" stroke-width="1" fill="none">
<rect x="13.5" y="28.5" width="717.0" height="311.0"/>
<rect x="13.5" y="353.5" width="717.0" height="218.0"/>
<line x1="13.5" y1="462.5" x2="730.5" y2="462.5"/>
</g>
<g shape-rendering="crispEdges" stroke="#c0c0c0" stroke-width="1">
<line x1="18.5" y1="340" x2="18.5" y2="341"/>
<line x1="18.5" y1="352" x2="18.5" y2="353"/>
<line x1="18.5" y1="572" x2="18.5" y2="573"/>
<line x1="23.5" y1="340" x2="23.5" y2="341"/>
<line x1="23.5" y1="352" x2="23.5" y2="353"/>
<line x1="23.5" y1="572" x2="23.5" y2="573"/>
<line x1="28.5" y1="340" x2="28.5" y2="341"/>
<line x1="28.5" y1="352" x2="28.5" y2="353"/>
<line x1="28.5" y1="572" x2="28.5" y2="573"/>
<line x1="33.5" y1="340" x2="33.5" y2="341"/>
<line x1="33.5" y1="352" x2="33.5" y2="353"/>
<line x1="33.5" y1="572" x2="33.5" y2="573"/>
<line x1="38.5" y1="340" x2="38.5" y2="341"/>
<line x1="38.5" y1="352" x2="38.5" y2="353"/>
<line x1="38.5" y1="572" x2="38.5" y2="573"/>
<line x1="43.5" y1="340" x2="43.5" y2="341"/>
<line x1="43.5" y1="352" x2="43.5" y2="353"/>
<line x1="43.5" y1="572" x2="43.5" y2="573"/>
<line x1="48.5" y1="340" x2="48.5" y2="341"/>
<line x1="48.5" y1="352" x2="48.5" y2="353"/>
<line x1="48.5" y1="572" x2="48.5" y2="573"/>
<line x1="53.5" y1="340" x2="53.5" y2="341"/>
<line x1="53.5" y1="352" x2="53.5" y2="353"/>
<line x1="53.5" y1="572" x2="53.5" y2="573"/>
<line x1="58.5" y1="340" x2="58.5" y2="341"/>
<line x1="58.5" y1="352" x2="58.5" y2="353"/>
<line x1="58.5" y1="572" x2="58.5" y2="573"/>
<line x1="63.5" y1="340" x2="63.5" y2="341"/>
<line x1="63.5" y1="352" x2="63.5" y2="353"/>
<line x1="63.5" y1="572" x2="63.5" y2="573"/>
<line x1="68.5" y1="340" x2="68.5" y2="341"/>
<line x1="68.5" y1="352" x2="68.5" y2="353"/>
<line x1="68.5" y1="572" x2="68.5" y2="573"/>
<line x1="73.5" y1="340" x2="73.5" y2="341"/>
<line x1="73.5" y1="352" x2="73.5" y2="353"/>
<line x1="73.5" y1="572" x2="73.5" y2="573"/>
<line x1="78.5" y1="340" x2="78.5" y2="341"/>
<line x1="78.5" y1="352" x2="78.5" y2="353"/>
<line x1="78.5" y1="572" x2="78.5" y2="573"/>
<line x1="83.5" y1="340" x2="83.5" y2="341"/>
<line x1="83.5" y1="352" x2="83.5" y2="353"/>
<line x1="83.5" y1="572" x2="83.5" y2="573"/>
<line x1="88.5" y1="340" x2="88.5" y2="341"/>
<line x1="88.5" y1="352" x2="88.5" y2="353"/>
<line x1="88.5" y1="572" x2="88.5" y2="573"/>
<line x1="93.5" y1="340" x2="93.5" y2="341"/>
<line x1="93.5" y1="352" x2="93.5" y2="353"/>
<line x1="93.5" y1="572" x2="93.5" y2="573"/>
<line x1="98.5" y1="340" x2="98.5" y2="341"/>
<line x1="98.5" y1="352" x2="98.5" y2="353"/>
<line x1="98.5" y1="572" x2="98.5" y2="573"/>
<line x1="103.5" y1="340" x2="103.5" y2="341"/>
<line x1="103.5" y1="352" x2="103.5" y2="353"/>
<line x1="103.5" y1="572" x2="103.5" y2="573"/>
<line x1="108.5" y1="340" x2="108.5" y2="341"/>
<line x1="108.5" y1="352" x2="108.5" y2="353"/>
<line x1="108.5" y1="572" x2="108.5" y2="573"/>
<line x1="113.5" y1="340" x2="113.5" y2="341"/>
<line x1="113.5" y1="352" x2="113.5" y2="353"/>
<line x1="113.5" y1="572" x2="113.5" y2="573"/>
<line x1="118.5" y1="340" x2="118.5" y2="341"/>
<line x1="118.5" y1="352" x2="118.5" y2="353"/>
<line x1="118.5" y1="572" x2="118.5" y2="573"/>
<line x1="123.5" y1="340" x2="123.5" y2="341"/>
<line x1="123.5" y1="352" x2="123.5" y2="353"/>
<line x1="123.5" y1="572" x2="123.5" y2="573"/>
<line x1="128.5" y1="340" x2="128.5" y2="341"/>
<line x1="128.5" y1="352" x2="128.5" y2="353"/>
<line x1="128.5" y1="572" x2="128.5" y2="573"/>
<line x1="133.5" y1="340" x2="133.5" y2="341"/>
<line x1="133.5" y1="352" x2="133.5" y2="353"/>
<line x1="133.5" y1="572" x2="133.5" y2="573"/>
<line x1="138.5" y1="340" x2="138.5" y2="341"/>
<line x1="138.5" y1="352" x2="138.5" y2="353"/>
<line x1="138.5" y1="572" x2="138.5" y2="573"/>
<line x1="143.5" y1="340" x2="143.5" y2="341"/>
<line x1="143.5" y1="352" x2="143.5" y2="353"/>
<line x1="143.5" y1="572" x2="143.5" y2="573"/>
<line x1="148.5" y1="340" x2="148.5" y2="341"/>
<line x1="148.5" y1="352" x2="148.5" y2="353"/>
<line x1="148.5" y1="572" x2="148.5" y2="573"/>
<line x1="153.5" y1="340" x2="153.5" y2="341"/>
<line x1="153.5" y1="352" x2="153.5" y2="353"/>
<line x1="153.5" y1="572" x2="153.5" y2="573"/>
<line x1="158.5" y1="340" x2="158.5" y2="341"/>
<line x1="158.5" y1="352" x2="158.5" y2="353"/>
<line x1="158.5" y1="572" x2="158.5" y2="573"/>
<line x1="163.5" y1="340" x2="163.5" y2="341"/>
<line x1="163.5" y1="352" x2="163.5" y2="353"/>
<line x1="163.5" y1="572" x2="163.5" y2="573"/>
<line x1="168.5" y1="340" x2="168.5" y2="341"/>
<line x1="168.5" y1="352" x2="168.5" y2="353"/>
<line x1="168.5" y1="572" x2="168.5" y2="573"/>
<line x1="173.5" y1="340" x2="173.5" y2="341"/>
<line x1="173.5" y1="352" x2="173.5" y2="353"/>
<line x1="173.5" y1="572" x2="173.5" y2="573"/>
<line x1="178.5" y1="340" x2="178.5" y2="341"/>
<line x1="178.5" y1="352" x2="178.5" y2="353"/>
<line x1="178.5" y1="572" x2="178.5" y2="573"/>
<line x1="183.5" y1="340" x2="183.5" y2="341"/>
<line x1="183.5" y1="352" x2="183.5" y2="353"/>
<line x1="183.5" y1="572" x2="183.5" y2="573"/>
<line x1="188.5" y1="340" x2="188.5" y2="341"/>
<line x1="188.5" y1="352" x2="188.5" y2="353"/>
<line x1="188.5" y1="572" x2="188.5" y2="573"/>
<line x1="193.5" y1="340" x2="193.5" y2="341"/>
<line x1="193.5" y1="352" x2="193.5" y2="353"/>
<line x1="193.5" y1="572" x2="193.5" y2="573"/>
<line x1="198.5" y1="340" x2="198.5" y2="341"/>
<line x1="198.5" y1="352" x2="198.5" y2="353"/>
<line x1="198.5" y1="572" x2="198.5" y2="573"/>
<line x1="203.5" y1="340" x2="203.5" y2="341"/>
<line x1="203.5" y1="352" x2="203.5" y2="353"/>
<line x1="203.5" y1="572" x2="203.5" y2="573"/>
<line x1="208.5" y1="340" x2="208.5" y2="341"/>
<line x1="208.5" y1="352" x2="208.5" y2="353"/>
<line x1="208.5" y1="572" x2="208.5" y2="573"/>
<line x1="213.5" y1="340" x2="213.5" y2="341"/>
<line x1="213.5" y1="352" x2="213.5" y2="353"/>
<line x1="213.5" y1="572" x2="213.5" y2="573"/>
<line x1="218.5" y1="340" x2="218.5" y2="341"/>
<line x1="218.5" y1="352" x2="218.5" y2="353"/>
<line x1="218.5" y1="572" x2="218.5" y2="573"/>
<line x1="223.5" y1="340" x2="223.5" y2="341"/>
<line x1="223.5" y1="352" x2="223.5" y2="353"/>
<line x1="223.5" y1="572" x2="223.5" y2="573"/>
<line x1="228.5" y1="340" x2="228.5" y2="341"/>
<line x1="228.5" y1="352" x2="228.5" y2="353"/>
<line x1="228.5" y1="572" x2="228.5" y2="573"/>
<line x1="233.5" y1="340" x2="233.5" y2="341"/>
<line x1="233.5" y1="352" x2="233.5" y2="353"/>
<line x1="233.5" y1="572" x2="233.5" y2="573"/>
<line x1="238.5" y1="340" x2="238.5" y2="341"/>
<line x1="238.5" y1="352" x2="238.5" y2="353"/>
<line x1="238.5" y1="572" x2="238.5" y2="573"/>
<line x1="243.5" y1="340" x2="243.5" y2="341"/>
<line x1="243.5" y1="352" x2="243.5" y2="353"/>
<line x1="243.5" y1="572" x2="243.5" y2="573"/>
<line x1="248.5" y1="340" x2="248.5" y2="341"/>
<line x1="248.5" y1="352" x2="248.5" y2="353"/>
<line x1="248.5" y1="572" x2="248.5" y2="573"/>
<line x1="253.5" y1="340" x2="253.5" y2="341"/>
<line x1="253.5" y1="352" x2="253.5" y2="353"/>
<line x1="253.5" y1="572" x2="253.5" y2="573"/>
<line x1="258.5" y1="340" x2="258.5" y2="341"/>
<line x1="258.5" y1="352" x2="258.5" y2="353"/>
<line x1="258.5" y1="572" x2="258.5" y2="573"/>
<line x1="263.5" y1="340" x2="263.5" y2="341"/>
<line x1="263.5" y1="352" x2="263.5" y2="353"/>
<line x1="263.5" y1="572" x2="263.5" y2="573"/>
<line x1="268.5" y1="340" x2="268.5" y2="341"/>
<line x1="268.5" y1="352" x2="268.5" y2="353"/>
<line x1="268.5" y1="572" x2="268.5" y2="573"/>
<line x1="273.5" y1="340" x2="273.5" y2="341"/>
<line x1="273.5" y1="352" x2="273.5" y2="353"/>
<line x1="273.5" y1="572" x2="273.5" y2="573"/>
<line x1="278.5" y1="340" x2="278.5" y2="341"/>
<line x1="278.5" y1="352" x2="278.5" y2="353"/>
<line x1="278.5" y1="572" x2="278.5" y2="573"/>
<line x1="283.5" y1="340" x2="283.5" y2="341"/>
<line x1="283.5" y1="352" x2="283.5" y2="353"/>
<line x1="283.5" y1="572" x2="283.5" y2="573"/>
<line x1="288.5" y1="340" x2="288.5" y2="341"/>
<line x1="288.5" y1="352" x2="288.5" y2="353"/>
<line x1="288.5" y1="572" x2="288.5" y2="573"/>
<line x1="293.5" y1="340" x2="293.5" y2="341"/>
<line x1="293.5" y1="352" x2="293.5" y2="353"/>
<line x1="293.5" y1="572" x2="293.5" y2="573"/>
<line x1="298.5" y1="340" x2="298.5" y2="341"/>
<line x1="298.5" y1="352" x2="298.5" y2="353"/>
<line x1="298.5" y1="572" x2="298.5" y2="573"/>
<line x1="303.5" y1="340" x2="303.5" y2="341"/>
<line x1="303.5" y1="352" x2="303.5" y2="353"/>
<line x1="303.5" y1="572" x2="303.5" y2="573"/>
<line x1="308.5" y1="340" x2="308.5" y2="341"/>
<line x1="308.5" y1="352" x2="308.5" y2="353"/>
<line x1="308.5" y1="572" x2="308.5" y2="573"/>
<line x1="313.5" y1="340" x2="313.5" y2="341"/>
<line x1="313.5" y1="352" x2="313.5" y2="353"/>
<line x1="313.5" y1="572" x2="313.5" y2="573"/>
<line x1="318.5" y1="340" x2="318.5" y2="341"/>
<line x1="318.5" y1="352" x2="318.5" y2="353"/>
<line x1="318.5" y1="572" x2="318.5" y2="573"/>
<line x1="323.5" y1="340" x2="323.5" y2="341"/>
<line x1="323.5" y1="352" x2="323.5" y2="353"/>
<line x1="323.5" y1="572" x2="323.5" y2="573"/>
<line x1="328.5" y1="340" x2="328.5" y2="341"/>
<line x1="328.5" y1="352" x2="328.5" y2="353"/>
<line x1="328.5" y1="572" x2="328.5" y2="573"/>
<line x1="333.5" y1="340" x2="333.5" y2="341"/>
<line x1="333.5" y1="352" x2="333.5" y2="353"/>
<line x1="333.5" y1="572" x2="333.5" y2="573"/>
<line x1="338.5" y1="340" x2="338.5" y2="341"/>
<line x1="338.5" y1="352" x2="338.5" y2="353"/>
<line x1="338.5" y1="572" x2="338.5" y2="573"/>
<line x1="343.5" y1="340" x2="343.5" y2="341"/>
<line x1="343.5" y1="352" x2="343.5" y2="353"/>
<line x1="343.5" y1="572" x2="343.5" y2="573"/>
<line x1="348.5" y1="340" x2="348.5" y2="341"/>
<line x1="348.5" y1="352" x2="348.5" y2="353"/>
<line x1="348.5" y1="572" x2="348.5" y2="573"/>
<line x1="353.5" y1="340" x2="353.5" y2="341"/>
<line x1="353.5" y1="352" x2="353.5" y2="353"/>
<line x1="353.5" y1="572" x2="353.5" y2="573"/>
<line x1="358.5" y1="340" x2="358.5" y2="341"/>
<line x1="358.5" y1="352" x2="358.5" y2="353"/>
<line x1="358.5" y1="572" x2="358.5" y2="573"/>
<line x1="363.5" y1="340" x2="363.5" y2="341"/>
<line x1="363.5" y1="352" x2="363.5" y2="353"/>
<line x1="363.5" y1="572" x2="363.5" y2="573"/>
<line x1="368.5" y1="340" x2="368.5" y2="341"/>
<line x1="368.5" y1="352" x2="368.5" y2="353"/>
<line x1="368.5" y1="572" x2="368.5" y2="573"/>
<line x1="373.5" y1="340" x2="373.5" y2="341"/>
<line x1="373.5" y1="352" x2="373.5" y2="353"/>
<line x1="373.5" y1="572" x2="373.5" y2="573"/>
<line x1="378.5" y1="340" x2="378.5" y2="341"/>
<line x1="378.5" y1="352" x2="378.5" y2="353"/>
<line x1="378.5" y1="572" x2="378.5" y2="573"/>
<line x1="383.5" y1="340" x2="383.5" y2="341"/>
<line x1="383.5" y1="352" x2="383.5" y2="353"/>
<line x1="383.5" y1="572" x2="383.5" y2="573"/>
<line x1="388.5" y1="340" x2="388.5" y2="341"/>
<line x1="388.5" y1="352" x2="388.5" y2="353"/>
<line x1="388.5" y1="572" x2="388.5" y2="573"/>
<line x1="393.5" y1="340" x2="393.5" y2="341"/>
<line x1="393.5" y1="352" x2="393.5" y2="353"/>
<line x1="393.5" y1="572" x2="393.5" y2="573"/>
<line x1="398.5" y1="340" x2="398.5" y2="341"/>
<line x1="398.5" y1="352" x2="398.5" y2="353"/>
<line x1="398.5" y1="572" x2="398.5" y2="573"/>
<line x1="403.5" y1="340" x2="403.5" y2="341"/>
<line x1="403.5" y1="352" x2="403.5" y2="353"/>
<line x1="403.5" y1="572" x2="403.5" y2="573"/>
<line x1="408.5" y1="340" x2="408.5" y2="341"/>
<line x1="408.5" y1="352" x2="408.5" y2="353"/>
<line x1="408.5" y1="572" x2="408.5" y2="573"/>
<line x1="413.5" y1="340" x2="413.5" y2="341"/>
<line x1="413.5" y1="352" x2="413.5" y2="353"/>
<line x1="413.5" y1="572" x2="413.5" y2="573"/>
<line x1="418.5" y1="340" x2="418.5" y2="341"/>
<line x1="418.5" y1="352" x2="418.5" y2="353"/>
<line x1="418.5" y1="572" x2="418.5" y2="573"/>
<line x1="423.5" y1="340" x2="423.5" y2="341"/>
<line x1="423.5" y1="352" x2="423.5" y2="353"/>
<line x1="423.5" y1="572" x2="423.5" y2="573"/>
<line x1="428.5" y1="340" x2="428.5" y2="341"/>
<line x1="428.5" y1="352" x2="428.5" y2="353"/>
<line x1="428.5" y1="572" x2="428.5" y2="573"/>
<line x1="433.5" y1="340" x2="433.5" y2="341"/>
<line x1="433.5" y1="352" x2="433.5" y2="353"/>
<line x1="433.5" y1="572" x2="433.5" y2="573"/>
<line x1="438.5" y1="340" x2="438.5" y2="341"/>
<line x1="438.5" y1="352" x2="438.5" y2="353"/>
<line x1="438.5" y1="572" x2="438.5" y2="573"/>
<line x1="443.5" y1="340" x2="443.5" y2="341"/>
<line x1="443.5" y1="352" x2="443.5" y2="353"/>
<line x1="443.5" y1="572" x2="443.5" y2="573"/>
<line x1="448.5" y1="340" x2="448.5" y2="341"/>
<line x1="448.5" y1="352" x2="448.5" y2="353"/>
<line x1="448.5" y1="572" x2="448.5" y2="573"/>
<line x1="453.5" y1="340" x2="453.5" y2="341"/>
<line x1="453.5" y1="352" x2="453.5" y2="353"/>
<line x1="453.5" y1="572" x2="453.5" y2="573"/>
<line x1="458.5" y1="340" x2="458.5" y2="341"/>
<line x1="458.5" y1="352" x2="458.5" y2="353"/>
<line x1="458.5" y1="572" x2="458.5" y2="573"/>
<line x1="463.5" y1="340" x2="463.5" y2="341"/>
<line x1="463.5" y1="352" x2="463.5" y2="353"/>
<line x1="463.5" y1="572" x2="463.5" y2="573"/>
<line x1="468.5" y1="340" x2="468.5" y2="341"/>
<line x1="468.5" y1="352" x2="468.5" y2="353"/>
<line x1="468.5" y1="572" x2="468.5" y2="573"/>
<line x1="473.5" y1="340" x2="473.5" y2="341"/>
<line x1="473.5" y1="352" x2="473.5" y2="353"/>
<line x1="473.5" y1="572" x2="473.5" y2="573"/>
<line x1="478.5" y1="340" x2="478.5" y2="341"/>
<line x1="478.5" y1="352" x2="478.5" y2="353"/>
<line x1="478.5" y1="572" x2="478.5" y2="573"/>
<line x1="483.5" y1="340" x2="483.5" y2="341"/>
<line x1="483.5" y1="352" x2="483.5" y2="353"/>
<line x1="483.5" y1="572" x2="483.5" y2="573"/>
<line x1="488.5" y1="340" x2="488.5" y2="341"/>
<line x1="488.5" y1="352" x2="488.5" y2="353"/>
<line x1="488.5" y1="572" x2="488.5" y2="573"/>
<line x1="493.5" y1="340" x2="493.5" y2="341"/>
<line x1="493.5" y1="352" x2="493.5" y2="353"/>
<line x1="493.5" y1="572" x2="493.5" y2="573"/>
<line x1="498.5" y1="340" x2="498.5" y2="341"/>
<line x1="498.5" y1="352" x2="498.5" y2="353"/>
<line x1="498.5" y1="572" x2="498.5" y2="573"/>
<line x1="503.5" y1="340" x2="503.5" y2="341"/>
<line x1="503.5" y1="352" x2="503.5" y2="353"/>
<line x1="503.5" y1="572" x2="503.5" y2="573"/>
<line x1="508.5" y1="340" x2="508.5" y2="341"/>
<line x1="508.5" y1="352" x2="508.5" y2="353"/>
<line x1="508.5" y1="572" x2="508.5" y2="573"/>
<line x1="513.5" y1="340" x2="513.5" y2="341"/>
<line x1="513.5" y1="352" x2="513.5" y2="353"/>
<line x1="513.5" y1="572" x2="513.5" y2="573"/>
<line x1="518.5" y1="340" x2="518.5" y2="341"/>
<line x1="518.5" y1="352" x2="518.5" y2="353"/>
<line x1="518.5" y1="572" x2="518.5" y2="573"/>
<line x1="523.5" y1="340" x2="523.5" y2="341"/>
<line x1="523.5" y1="352" x2="523.5" y2="353"/>
<line x1="523.5" y1="572" x2="523.5" y2="573"/>
<line x1="528.5" y1="340" x2="528.5" y2="341"/>
<line x1="528.5" y1="352" x2="528.5" y2="353"/>
<line x1="528.5" y1="572" x2="528.5" y2="573"/>
<line x1="533.5" y1="340" x2="533.5" y2="341"/>
<line x1="533.5" y1="352" x2="533.5" y2="353"/>
<line x1="533.5" y1="572" x2="533.5" y2="573"/>
<line x1="538.5" y1="340" x2="538.5" y2="341"/>
<line x1="538.5" y1="352" x2="538.5" y2="353"/>
<line x1="538.5" y1="572" x2="538.5" y2="573"/>
<line x1="543.5" y1="340" x2="543.5" y2="341"/>
<line x1="543.5" y1="352" x2="543.5" y2="353"/>
<line x1="543.5" y1="572" x2="543.5" y2="573"/>
<line x1="548.5" y1="340" x2="548.5" y2="341"/>
<line x1="548.5" y1="352" x2="548.5" y2="353"/>
<line x1="548.5" y1="572" x2="548.5" y2="573"/>
<line x1="553.5" y1="340" x2="553.5" y2="341"/>
<line x1="553.5" y1="352" x2="553.5" y2="353"/>
<line x1="553.5" y1="572" x2="553.5" y2="573"/>
<line x1="558.5" y1="340" x2="558.5" y2="341"/>
<line x1="558.5" y1="352" x2="558.5" y2="353"/>
<line x1="558.5" y1="572" x2="558.5" y2="573"/>
<line x1="563.5" y1="340" x2="563.5" y2="341"/>
<line x1="563.5" y1="352" x2="563.5" y2="353"/>
<line x1="563.5" y1="572" x2="563.5" y2="573"/>
<line x1="568.5" y1="340" x2="568.5" y2="341"/>
<line x1="568.5" y1="352" x2="568.5" y2="353"/>
<line x1="568.5" y1="572" x2="568.5" y2="573"/>
<line x1="573.5" y1="340" x2="573.5" y2="341"/>
<line x1="573.5" y1="352" x2="573.5" y2="353"/>
<line x1="573.5" y1="572" x2="573.5" y2="573"/>
<line x1="578.5" y1="340" x2="578.5" y2="341"/>
<line x1="578.5" y1="352" x2="578.5" y2="353"/>
<line x1="578.5" y1="572" x2="578.5" y2="573"/>
<line x1="583.5" y1="340" x2="583.5" y2="341"/>
<line x1="583.5" y1="352" x2="583.5" y2="353"/>
<line x1="583.5" y1="572" x2="583.5" y2="573"/>
<line x1="588.5" y1="340" x2="588.5" y2="341"/>
<line x1="588.5" y1="352" x2="588.5" y2="353"/>
<line x1="588.5" y1="572" x2="588.5" y2="573"/>
<line x1="593.5" y1="340" x2="593.5" y2="341"/>
<line x1="593.5" y1="352" x2="593.5" y2="353"/>
<line x1="593.5" y1="572" x2="593.5" y2="573"/>
<line x1="598.5" y1="340" x2="598.5" y2="341"/>
<line x1="598.5" y1="352" x2="598.5" y2="353"/>
<line x1="598.5" y1="572" x2="598.5" y2="573"/>
<line x1="603.5" y1="340" x2="603.5" y2="341"/>
<line x1="603.5" y1="352" x2="603.5" y2="353"/>
<line x1="603.5" y1="572" x2="603.5" y2="573"/>
<line x1="608.5" y1="340" x2="608.5" y2="341"/>
<line x1="608.5" y1="352" x2="608.5" y2="353"/>
<line x1="608.5" y1="572" x2="608.5" y2="573"/>
<line x1="613.5" y1="340" x2="613.5" y2="341"/>
<line x1="613.5" y1="352" x2="613.5" y2="353"/>
<line x1="613.5" y1="572" x2="613.5" y2="573"/>
<line x1="618.5" y1="340" x2="618.5" y2="341"/>
<line x1="618.5" y1="352" x2="618.5" y2="353"/>
<line x1="618.5" y1="572" x2="618.5" y2="573"/>
<line x1="623.5" y1="340" x2="623.5" y2="341"/>
<line x1="623.5" y1="352" x2="623.5" y2="353"/>
<line x1="623.5" y1="572" x2="623.5" y2="573"/>
<line x1="628.5" y1="340" x2="628.5" y2="341"/>
<line x1="628.5" y1="352" x2="628.5" y2="353"/>
<line x1="628.5" y1="572" x2="628.5" y2="573"/>
<line x1="633.5" y1="340" x2="633.5" y2="341"/>
<line x1="633.5" y1="352" x2="633.5" y2="353"/>
<line x1="633.5" y1="572" x2="633.5" y2="573"/>
<line x1="638.5" y1="340" x2="638.5" y2="341"/>
<line x1="638.5" y1="352" x2="638.5" y2="353"/>
<line x1="638.5" y1="572" x2="638.5" y2="573"/>
<line x1="643.5" y1="340" x2="643.5" y2="341"/>
<line x1="643.5" y1="352" x2="643.5" y2="353"/>
<line x1="643.5" y1="572" x2="643.5" y2="573"/>
<line x1="648.5" y1="340" x2="648.5" y2="341"/>
<line x1="648.5" y1="352" x2="648.5" y2="353"/>
<line x1="648.5" y1="572" x2="648.5" y2="573"/>
<line x1="653.5" y1="340" x2="653.5" y2="341"/>
<line x1="653.5" y1="352" x2="653.5" y2="353"/>
<line x1="653.5" y1="572" x2="653.5" y2="573"/>
<line x1="658.5" y1="340" x2="658.5" y2="341"/>
<line x1="658.5" y1="352" x2="658.5" y2="353"/>
<line x1="658.5" y1="572" x2="658.5" y2="573"/>
<line x1="663.5" y1="340" x2="663.5" y2="341"/>
<line x1="663.5" y1="352" x2="663.5" y2="353"/>
<line x1="663.5" y1="572" x2="663.5" y2="573"/>
<line x1="668.5" y1="340" x2="668.5" y2="341"/>
<line x1="668.5" y1="352" x2="668.5" y2="353"/>
<line x1="668.5" y1="572" x2="668.5" y2="573"/>
<line x1="673.5" y1="340" x2="673.5" y2="341"/>
<line x1="673.5" y1="352" x2="673.5" y2="353"/>
<line x1="673.5" y1="572" x2="673.5" y2="573"/>
<line x1="678.5" y1="340" x2="678.5" y2="341"/>
<line x1="678.5" y1="352" x2="678.5" y2="353"/>
<line x1="678.5" y1="572" x2="678.5" y2="573"/>
<line x1="683.5" y1="340" x2="683.5" y2="341"/>
<line x1="683.5" y1="352" x2="683.5" y2="353"/>
<line x1="683.5" y1="572" x2="683.5" y2="573"/>
<line x1="688.5" y1="340" x2="688.5" y2="341"/>
<line x1="688.5" y1="352" x2="688.5" y2="353"/>
<line x1="688.5" y1="572" x2="688.5" y2="573"/>
<line x1="693.5" y1="340" x2="693.5" y2="341"/>
<line x1="693.5" y1="352" x2="693.5" y2="353"/>
<line x1="693.5" y1="572" x2="693.5" y2="573"/>
<line x1="698.5" y1="340" x2="698.5" y2="341"/>
<line x1="698.5" y1="352" x2="698.5" y2="353"/>
<line x1="698.5" y1="572" x2="698.5" y2="573"/>
<line x1="703.5" y1="340" x2="703.5" y2="341"/>
<line x1="703.5" y1="352" x2="703.5" y2="353"/>
<line x1="703.5" y1="572" x2="703.5" y2="573"/>
<line x1="708.5" y1="340" x2="708.5" y2="341"/>
<line x1="708.5" y1="352" x2="708.5" y2="353"/>
<line x1="708.5" y1="572" x2="708.5" y2="573"/>
<line x1="713.5" y1="340" x2="713.5" y2="341"/>
<line x1="713.5" y1="352" x2="713.5" y2="353"/>
<line x1="713.5" y1="572" x2="713.5" y2="573"/>
<line x1="718.5" y1="340" x2="718.5" y2="341"/>
<line x1="718.5" y1="352" x2="718.5" y2="353"/>
<line x1="718.5" y1="572" x2="718.5" y2="573"/>
<line x1="723.5" y1="340" x2="723.5" y2="341"/>
<line x1="723.5" y1="352" x2="723.5" y2="353"/>
<line x1="723.5" y1="572" x2="723.5" y2="573"/>
<line x1="730.5" y1="336.5" x2="731.5" y2="336.5"/>
<line x1="730.5" y1="331.5" x2="731.5" y2="331.5"/>
<line x1="730.5" y1="326.5" x2="732.5" y2="326.5"/>
<line x1="730.5" y1="321.5" x2="731.5" y2="321.5"/>
<line x1="730.5" y1="317.5" x2="731.5" y2="317.5"/>
<line x1="730.5" y1="312.5" x2="731.5" y2="312.5"/>
<line x1="730.5" y1="307.5" x2="731.5" y2="307.5"/>
<line x1="730.5" y1="303.5" x2="732.5" y2="303.5"/>
<line x1="730.5" y1="298.5" x2="731.5" y2="298.5"/>
<line x1="730.5" y1="293.5" x2="731.5" y2="293.5"/>
<line x1="730.5" y1="289.5" x2="731.5" y2="289.5"/>
<line x1="730.5" y1="284.5" x2="731.5" y2="284.5"/>
<line x1="730.5" y1="279.5" x2="732.5" y2="279.5"/>
<line x1="730.5" y1="275.5" x2="731.5" y2="275.5"/>
<line x1="730.5" y1="270.5" x2="731.5" y2="270.5"/>
<line x1="730.5" y1="265.5" x2="731.5" y2="265.5"/>
<line x1="730.5" y1="261.5" x2="731.5" y2="261.5"/>
<line x1="730.5" y1="256.5" x2="732.5" y2="256.5"/>
<line x1="730.5" y1="251.5" x2="731.5" y2="251.5"/>
<line x1="730.5" y1="247.5" x2="731.5" y2="247.5"/>
<line x1="730.5" y1="242.5" x2="731.5" y2="242.5"/>
<line x1="730.5" y1="238.5" x2="731.5" y2="238.5"/>
<line x1="730.5" y1="233.5" x2="732.5" y2="233.5"/>
<line x1="730.5" y1="228.5" x2="731.5" y2="228.5"/>
<line x1="730.5" y1="224.5" x2="731.5" y2="224.5"/>
<line x1="730.5" y1="219.5" x2="731.5" y2="219.5"/>
<line x1="730.5" y1="215.5" x2="731.5" y2="215.5"/>
<line x1="730.5" y1="210.5" x2="732.5" y2="210.5"/>
<line x1="730.5" y1="205.5" x2="731.5" y2="205.5"/>
<line x1="730.5" y1="201.5" x2="731.5" y2="201.5"/>
<line x1="730.5" y1="196.5" x2="731.5" y2="196.5"/>
<line x1="730.5" y1="192.5" x2="731.5" y2="192.5"/>
<line x1="730.5" y1="187.5" x2="732.5" y2="187.5"/>
<line x1="730.5" y1="182.5" x2="731.5" y2="182.5"/>
<line x1="730.5" y1="178.5" x2="731.5" y2="178.5"/>
<line x1="730.5" y1="173.5" x2="731.5" y2="173.5"/>
<line x1="730.5" y1="169.5" x2="731.5" y2="169.5"/>
<line x1="730.5" y1="164.5" x2="732.5" y2="164.5"/>
<line x1="730.5" y1="160.5" x2="731.5" y2="160.5"/>
<line x1="730.5" y1="155.5" x2="731.5" y2="155.5"/>
<line x1="730.5" y1="151.5" x2="731.5" y2="151.5"/>
<line x1="730.5" y1="146.5" x2="731.5" y2="146.5"/>
<line x1="730.5" y1="142.5" x2="732.5" y2="142.5"/>
<line x1="730.5" y1="137.5" x2="731.5" y2="137.5"/>
<line x1="730.5" y1="133.5" x2="731.5" y2="133.5"/>
<line x1="730.5" y1="128.5" x2="731.5" y2="128.5"/>
<line x1="730.5" y1="123.5" x2="731.5" y2="123.5"/>
<line x1="730.5" y1="119.5" x2="732.5" y2="119.5"/>
<line x1="730.5" y1="114.5" x2="731.5" y2="114.5"/>
<line x1="730.5" y1="110.5" x2="731.5" y2="110.5"/>
<line x1="730.5" y1="105.5" x2="731.5" y2="105.5"/>
<line x1="730.5" y1="101.5" x2="731.5" y2="101.5"/>
<line x1="730.5" y1="97.5" x2="732.5" y2="97.5"/>
<line x1="730.5" y1="92.5" x2="731.5" y2="92.5"/>
<line x1="730.5" y1="88.5" x2="731.5" y2="88.5"/>
<line x1="730.5" y1="83.5" x2="731.5" y2="83.5"/>
<line x1="730.5" y1="79.5" x2="731.5" y2="79.5"/>
<line x1="730.5" y1="74.5" x2="732.5" y2="74.5"/>
<line x1="730.5" y1="70.5" x2="731.5" y2="70.5"/>
<line x1="730.5" y1="65.5" x2="731.5" y2="65.5"/>
<line x1="730.5" y1="61.5" x2="731.5" y2="61.5"/>
<line x1="730.5" y1="56.5" x2="731.5" y2="56.5"/>
<line x1="730.5" y1="52.5" x2="732.5" y2="52.5"/>
<line x1="730.5" y1="47.5" x2="731.5" y2="47.5"/>
<line x1="730.5" y1="43.5" x2="731.5" y2="43.5"/>
<line x1="730.5" y1="39.5" x2="731.5" y2="39.5"/>
<line x1="730.5" y1="34.5" x2="731.5" y2="34.5"/>
<line x1="730.5" y1="459.5" x2="731.5" y2="459.5"/>
<line x1="730.5" y1="455.5" x2="731.5" y2="455.5"/>
<line x1="730.5" y1="450.5" x2="732.5" y2="450.5"/>
<line x1="730.5" y1="445.5" x2="731.5" y2="445.5"/>
<line x1="730.5" y1="441.5" x2="731.5" y2="441.5"/>
<line x1="730.5" y1="436.5" x2="731.5" y2="436.5"/>
<line x1="730.5" y1="431.5" x2="732.5" y2="431.5"/>
<line x1="730.5" y1="427.5" x2="731.5" y2="427.5"/>
<line x1="730.5" y1="422.5" x2="731.5" y2="422.5"/>
<line x1="730.5" y1="417.5" x2="731.5" y2="417.5"/>
<line x1="730.5" y1="413.5" x2="732.5" y2="413.5"/>
<line x1="730.5" y1="408.5" x2="731.5" y2="408.5"/>
<line x1="730.5" y1="403.5" x2="731.5" y2="403.5"/>
<line x1="730.5" y1="399.5" x2="731.5" y2="399.5"/>
<line x1="730.5" y1="394.5" x2="732.5" y2="394.5"/>
<line x1="730.5" y1="389.5" x2="731.5" y2="389.5"/>
<line x1="730.5" y1="385.5" x2="731.5" y2="385.5"/>
<line x1="730.5" y1="380.5" x2="731.5" y2="380.5"/>
<line x1="730.5" y1="375.5" x2="732.5" y2="375.5"/>
<line x1="730.5" y1="371.5" x2="731.5" y2="371.5"/>
<line x1="730.5" y1="366.5" x2="731.5" y2="366.5"/>
<line x1="730.5" y1="361.5" x2="731.5" y2="361.5"/>
<line x1="730.5" y1="357.5" x2="732.5" y2="357.5"/>
<line x1="730.5" y1="569.5" x2="731.5" y2="569.5"/>
<line x1="730.5" y1="564.5" x2="732.5" y2="564.5"/>
<line x1="730.5" y1="559.5" x2="731.5" y2="559.5"/>
<line x1="730.5" y1="554.5" x2="732.5" y2="554.5"/>
<line x1="730.5" y1="550.5" x2="731.5" y2="550.5"/>
<line x1="730.5" y1="545.5" x2="732.5" y2="545.5"/>
<line x1="730.5" y1="540.5" x2="731.5" y2="540.5"/>
<line x1="730.5" y1="535.5" x2="732.5" y2="535.5"/>
<line x1="730.5" y1="531.5" x2="731.5" y2="531.5"/>
<line x1="730.5" y1="526.5" x2="732.5" y2="526.5"/>
<line x1="730.5" y1="521.5" x2="731.5" y2="521.5"/>
<line x1="730.5" y1="516.5" x2="732.5" y2="516.5"/>
<line x1="730.5" y1="512.5" x2="731.5" y2="512.5"/>
<line x1="730.5" y1="507.5" x2="732.5" y2="507.5"/>
<line x1="730.5" y1="502.5" x2="731.5" y2="502.5"/>
<line x1="730.5" y1="498.5" x2="732.5" y2="498.5"/>
<line x1="730.5" y1="493.5" x2="731.5" y2="493.5"/>
<line x1="730.5" y1="488.5" x2="732.5" y2="488.5"/>
<line x1="730.5" y1="483.5" x2="731.5" y2="483.5"/>
<line x1="730.5" y1="479.5" x2="732.5" y2="479.5"/>
<line x1="730.5" y1="474.5" x2="731.5" y2="474.5"/>
<line x1="730.5" y1="469.5" x2="732.5" y2="469.5"/>
<line x1="730.5" y1="464.5" x2="731.5" y2="464.5"/>
</g>
<g shape-rendering="crispEdges" stroke="#000" stroke-width="1"><rect x="16.5" y="32.5" width="2" height="3" fill="#fff"/><line x1="17.5" y1="31" x2="17.5" y2="32"/><line x1="17.5" y1="36" x2="17.5" y2="38"/><rect x="19" y="34" width="3" height="4" fill="#000" stroke="none"/><line x1="20.5" y1="38" x2="20.5" y2="39"/><rect x="22.5" y="32.5" width="2" height="5" fill="#fff"/><line x1="23.5" y1="31" x2="23.5" y2="32"/><line x1="23.5" y1="38" x2="23.5" y2="39"/></g>
<rect x="16" y="45" width="9" height="2" fill="#000099" shape-rendering="crispEdges"/>
<rect x="16" y="56" width="9" height="2" fill="#d2042d" shape-rendering="crispEdges"/>
<g shape-rendering="crispEdges" fill="#aaa" stroke="#555" stroke-width="1"><rect x="16.5" y="66.5" width="2" height="4"/><rect x="19.5" y="63.5" width="2" height="7"/><rect x="22.5" y="65.5" width="2" height="5"/></g>
<polygon points="16.5,364 20.5,355.5 22.5,361 24.5,357.5 24.5,364" fill="#729672"/><polyline points="16.5,364 20.5,355.5 22.5,361 24.5,357.5 24.5,364" fill="none" stroke="#000" stroke-width="1.2"/>
<rect x="16" y="468" width="9" height="2" fill="#000" shape-rendering="crispEdges"/>
<polygon points="722.8,20.8 730.2,20.8 726.5,25.2" fill="#a00020"/>
<rect x="54.5" y="181.5" width="389" height="104" fill="#fff" stroke="#777" stroke-width="1" shape-rendering="crispEdges"/>
<rect x="457.5" y="44.5" width="168" height="25" fill="#ffff33" stroke="#000" stroke-width="1" shape-rendering="crispEdges"/>
<g font-family="Liberation Sans, sans-serif" style="opacity:0.999">
<text x="13.50" y="13.5" font-size="14" font-weight="bold" fill="#000" stroke="#000" stroke-width="0.15" textLength="32.70" lengthAdjust="spacingAndGlyphs" >$USD</text>
<text x="49.90" y="13.1" font-size="11" font-weight="normal" fill="#000" stroke="#000" stroke-width="0.15" textLength="109.50" lengthAdjust="spacingAndGlyphs" >US Dollar - Cash Settle</text>
<text x="163.50" y="13.05" font-size="8.2" font-weight="normal" fill="#000" stroke="#000" stroke-width="0.15" textLength="33.90" lengthAdjust="spacing" >FOREX</text>
<text x="12.90" y="25.9" font-size="10" font-weight="normal" fill="#000" stroke="#000" stroke-width="0.15" textLength="98.90" lengthAdjust="spacing" >7-Nov-2024 11:56am</text>
<text x="640.80" y="12.5" font-size="10.8" font-weight="normal" fill="#555" stroke="#555" stroke-width="0.15" textLength="89.70" lengthAdjust="spacing" >© StockCharts.com</text>
<text x="359.70" y="26.1" font-size="11" font-weight="bold" fill="#000" stroke="#000" stroke-width="0.15" textLength="29.00" lengthAdjust="spacingAndGlyphs" >Open</text>
<text x="392.40" y="26.1" font-size="10" font-weight="normal" fill="#000" stroke="#000" stroke-width="0.15" textLength="32.30" lengthAdjust="spacingAndGlyphs" >105.11</text>
<text x="430.20" y="26.1" font-size="11" font-weight="bold" fill="#000" stroke="#000" stroke-width="0.15" textLength="24.50" lengthAdjust="spacingAndGlyphs" >High</text>
<text x="458.40" y="26.1" font-size="10" font-weight="normal" fill="#000" stroke="#000" stroke-width="0.15" textLength="32.40" lengthAdjust="spacingAndGlyphs" >105.25</text>
<text x="496.30" y="26.1" font-size="11" font-weight="bold" fill="#000" stroke="#000" stroke-width="0.15" textLength="24.20" lengthAdjust="spacingAndGlyphs" >Low</text>
<text x="524.20" y="26.1" font-size="10" font-weight="normal" fill="#000" stroke="#000" stroke-width="0.15" textLength="32.50" lengthAdjust="spacingAndGlyphs" >104.70</text>
<text x="562.50" y="26.1" font-size="11" font-weight="bold" fill="#000" stroke="#000" stroke-width="0.15" textLength="23.70" lengthAdjust="spacingAndGlyphs" >Last</text>
<text x="590.40" y="26.1" font-size="10" font-weight="normal" fill="#000" stroke="#000" stroke-width="0.15" textLength="31.60" lengthAdjust="spacingAndGlyphs" >104.87</text>
<text x="628.30" y="26.1" font-size="11" font-weight="bold" fill="#000" stroke="#000" stroke-width="0.15" textLength="21.90" lengthAdjust="spacingAndGlyphs" >Chg</text>
<text x="653.60" y="26.1" font-size="10" font-weight="normal" fill="#000" stroke="#000" stroke-width="0.15" textLength="67.10" lengthAdjust="spacingAndGlyphs" >-0.11 (-0.11%)</text>
<text transform="translate(28.70,38.7) scale(1.16,1)" x="0" y="0" font-size="9.4" fill="#000" textLength="182.24" lengthAdjust="spacing">US Dollar - Cash Settle (Daily) 104.87</text>
<text x="26.10" y="49.9" font-size="9.4" font-weight="normal" fill="#000099" stroke="#000099" stroke-width="0.15" textLength="64.60" lengthAdjust="spacingAndGlyphs" >MA(50) 102.25</text>
<text x="26.10" y="60.6" font-size="9.4" font-weight="normal" fill="#cc0022" stroke="#cc0022" stroke-width="0.15" textLength="69.50" lengthAdjust="spacingAndGlyphs" >MA(200) 103.69</text>
<text x="26.80" y="71" font-size="9.4" font-weight="normal" fill="#555" stroke="#555" stroke-width="0.15" textLength="61.60" lengthAdjust="spacingAndGlyphs" >Volume undef</text>
<text transform="translate(28.60,363.8) scale(1.16,1)" x="0" y="0" font-size="9.4" fill="#000" textLength="74.91" lengthAdjust="spacing">CCI(20) 172.17</text>
<text transform="translate(28.60,472.7) scale(1.16,1)" x="0" y="0" font-size="9.4" fill="#000" textLength="152.59" lengthAdjust="spacing">Slow STO %K(14) %D(3) 55.51,</text>
<text transform="translate(209.50,472.7) scale(1.16,1)" x="0" y="0" font-size="9.4" fill="#ff0000" textLength="26.81" lengthAdjust="spacing">49.98</text>
<text x="733.90" y="54.7" font-size="9.9" font-weight="normal" fill="#000" stroke="#000" stroke-width="0.15" textLength="26.90" lengthAdjust="spacingAndGlyphs"  transform="rotate(0.04 734.4 54.7)">106.0</text>
<text x="733.90" y="77.2" font-size="9.9" font-weight="normal" fill="#000" stroke="#000" stroke-width="0.15" textLength="26.90" lengthAdjust="spacingAndGlyphs"  transform="rotate(0.04 734.4 77.2)">105.5</text>
<text x="733.90" y="99.6" font-size="9.9" font-weight="normal" fill="#000" stroke="#000" stroke-width="0.15" textLength="26.90" lengthAdjust="spacingAndGlyphs"  transform="rotate(0.04 734.4 99.6)">105.0</text>
<text x="733.90" y="122.0" font-size="9.9" font-weight="normal" fill="#000" stroke="#000" stroke-width="0.15" textLength="26.90" lengthAdjust="spacingAndGlyphs"  transform="rotate(0.04 734.4 122.0)">104.5</text>
<text x="733.90" y="144.7" font-size="9.9" font-weight="normal" fill="#000" stroke="#000" stroke-width="0.15" textLength="26.90" lengthAdjust="spacingAndGlyphs"  transform="rotate(0.04 734.4 144.7)">104.0</text>
<text x="733.90" y="167.1" font-size="9.9" font-weight="normal" fill="#000" stroke="#000" stroke-width="0.15" textLength="26.90" lengthAdjust="spacingAndGlyphs"  transform="rotate(0.04 734.4 167.1)">103.5</text>
<text x="733.90" y="189.6" font-size="9.9" font-weight="normal" fill="#000" stroke="#000" stroke-width="0.15" textLength="26.90" lengthAdjust="spacingAndGlyphs"  transform="rotate(0.04 734.4 189.6)">103.0</text>
<text x="733.90" y="212.4" font-size="9.9" font-weight="normal" fill="#000" stroke="#000" stroke-width="0.15" textLength="26.90" lengthAdjust="spacingAndGlyphs"  transform="rotate(0.04 734.4 212.4)">102.5</text>
<text x="733.90" y="235.2" font-size="9.9" font-weight="normal" fill="#000" stroke="#000" stroke-width="0.15" textLength="26.90" lengthAdjust="spacingAndGlyphs"  transform="rotate(0.04 734.4 235.2)">102.0</text>
<text x="733.90" y="258.3" font-size="9.9" font-weight="normal" fill="#000" stroke="#000" stroke-width="0.15" textLength="26.90" lengthAdjust="spacingAndGlyphs"  transform="rotate(0.04 734.4 258.3)">101.5</text>
<text x="733.90" y="281.5" font-size="9.9" font-weight="normal" fill="#000" stroke="#000" stroke-width="0.15" textLength="26.90" lengthAdjust="spacingAndGlyphs"  transform="rotate(0.04 734.4 281.5)">101.0</text>
<text x="733.90" y="305.3" font-size="9.9" font-weight="normal" fill="#000" stroke="#000" stroke-width="0.15" textLength="26.90" lengthAdjust="spacingAndGlyphs"  transform="rotate(0.04 734.4 305.3)">100.5</text>
<text x="733.90" y="328.8" font-size="9.9" font-weight="normal" fill="#000" stroke="#000" stroke-width="0.15" textLength="26.90" lengthAdjust="spacingAndGlyphs"  transform="rotate(0.04 734.4 328.8)">100.0</text>
<text x="736.50" y="359.7" font-size="9.9" font-weight="normal" fill="#000" stroke="#000" stroke-width="0.15" textLength="18.20" lengthAdjust="spacingAndGlyphs"  transform="rotate(0.04 736.8 359.7)">200</text>
<text x="736.50" y="378.6" font-size="9.9" font-weight="normal" fill="#000" stroke="#000" stroke-width="0.15" textLength="18.20" lengthAdjust="spacingAndGlyphs"  transform="rotate(0.04 736.8 378.6)">100</text>
<text x="748.60" y="397.7" font-size="9.9" font-weight="normal" fill="#000" stroke="#000" stroke-width="0.15" textLength="6.10" lengthAdjust="spacingAndGlyphs"  transform="rotate(0.04 748.9 397.7)">0</text>
<text x="733.60" y="416.2" font-size="9.9" font-weight="normal" fill="#000" stroke="#000" stroke-width="0.15" textLength="21.10" lengthAdjust="spacingAndGlyphs"  transform="rotate(0.04 733.9 416.2)">-100</text>
<text x="733.60" y="434.7" font-size="9.9" font-weight="normal" fill="#000" stroke="#000" stroke-width="0.15" textLength="21.10" lengthAdjust="spacingAndGlyphs"  transform="rotate(0.04 733.9 434.7)">-200</text>
<text x="733.60" y="453.5" font-size="9.9" font-weight="normal" fill="#000" stroke="#000" stroke-width="0.15" textLength="21.10" lengthAdjust="spacingAndGlyphs"  transform="rotate(0.04 733.9 453.5)">-300</text>
<text x="733.70" y="491.7" font-size="9.9" font-weight="normal" fill="#000" stroke="#000" stroke-width="0.15" textLength="11.60" lengthAdjust="spacingAndGlyphs"  transform="rotate(0.04 734.2 491.7)">80</text>
<text x="733.70" y="520.2" font-size="9.9" font-weight="normal" fill="#000" stroke="#000" stroke-width="0.15" textLength="11.60" lengthAdjust="spacingAndGlyphs"  transform="rotate(0.04 734.2 520.2)">50</text>
<text x="733.70" y="548.5" font-size="9.9" font-weight="normal" fill="#000" stroke="#000" stroke-width="0.15" textLength="11.60" lengthAdjust="spacingAndGlyphs"  transform="rotate(0.04 734.2 548.5)">20</text>
<text x="43.5" y="349.8" font-size="11" font-weight="bold" fill="#000" stroke="#000" stroke-width="0.15" text-anchor="middle" >May</text>
<text x="58.4" y="349.8" font-size="10" font-weight="normal" fill="#000" stroke="#000" stroke-width="0.15" text-anchor="middle" letter-spacing="0.45">6</text>
<text x="83.4" y="349.8" font-size="10" font-weight="normal" fill="#000" stroke="#000" stroke-width="0.15" text-anchor="middle" letter-spacing="0.45">13</text>
<text x="108.4" y="349.8" font-size="10" font-weight="normal" fill="#000" stroke="#000" stroke-width="0.15" text-anchor="middle" letter-spacing="0.45">20</text>
<text x="133.4" y="349.8" font-size="10" font-weight="normal" fill="#000" stroke="#000" stroke-width="0.15" text-anchor="middle" letter-spacing="0.45">27</text>
<text x="158.5" y="349.8" font-size="11" font-weight="bold" fill="#000" stroke="#000" stroke-width="0.15" text-anchor="middle" >Jun</text>
<text x="183.4" y="349.8" font-size="10" font-weight="normal" fill="#000" stroke="#000" stroke-width="0.15" text-anchor="middle" letter-spacing="0.45">10</text>
<text x="208.4" y="349.8" font-size="10" font-weight="normal" fill="#000" stroke="#000" stroke-width="0.15" text-anchor="middle" letter-spacing="0.45">17</text>
<text x="233.4" y="349.8" font-size="10" font-weight="normal" fill="#000" stroke="#000" stroke-width="0.15" text-anchor="middle" letter-spacing="0.45">24</text>
<text x="258.5" y="349.8" font-size="11" font-weight="bold" fill="#000" stroke="#000" stroke-width="0.15" text-anchor="middle" >Jul</text>
<text x="283.4" y="349.8" font-size="10" font-weight="normal" fill="#000" stroke="#000" stroke-width="0.15" text-anchor="middle" letter-spacing="0.45">8</text>
<text x="308.4" y="349.8" font-size="10" font-weight="normal" fill="#000" stroke="#000" stroke-width="0.15" text-anchor="middle" letter-spacing="0.45">15</text>
<text x="333.4" y="349.8" font-size="10" font-weight="normal" fill="#000" stroke="#000" stroke-width="0.15" text-anchor="middle" letter-spacing="0.45">22</text>
<text x="358.4" y="349.8" font-size="10" font-weight="normal" fill="#000" stroke="#000" stroke-width="0.15" text-anchor="middle" letter-spacing="0.45">29</text>
<text x="375.0" y="349.8" font-size="11" font-weight="bold" fill="#000" stroke="#000" stroke-width="0.15" text-anchor="middle" >Aug</text>
<text x="408.4" y="349.8" font-size="10" font-weight="normal" fill="#000" stroke="#000" stroke-width="0.15" text-anchor="middle" letter-spacing="0.45">12</text>
<text x="433.4" y="349.8" font-size="10" font-weight="normal" fill="#000" stroke="#000" stroke-width="0.15" text-anchor="middle" letter-spacing="0.45">19</text>
<text x="458.4" y="349.8" font-size="10" font-weight="normal" fill="#000" stroke="#000" stroke-width="0.15" text-anchor="middle" letter-spacing="0.45">26</text>
<text x="483.5" y="349.8" font-size="11" font-weight="bold" fill="#000" stroke="#000" stroke-width="0.15" text-anchor="middle" >Sep</text>
<text x="508.4" y="349.8" font-size="10" font-weight="normal" fill="#000" stroke="#000" stroke-width="0.15" text-anchor="middle" letter-spacing="0.45">9</text>
<text x="533.4" y="349.8" font-size="10" font-weight="normal" fill="#000" stroke="#000" stroke-width="0.15" text-anchor="middle" letter-spacing="0.45">16</text>
<text x="558.4" y="349.8" font-size="10" font-weight="normal" fill="#000" stroke="#000" stroke-width="0.15" text-anchor="middle" letter-spacing="0.45">23</text>
<text x="588.5" y="349.8" font-size="11" font-weight="bold" fill="#000" stroke="#000" stroke-width="0.15" text-anchor="middle" >Oct</text>
<text x="608.4" y="349.8" font-size="10" font-weight="normal" fill="#000" stroke="#000" stroke-width="0.15" text-anchor="middle" letter-spacing="0.45">7</text>
<text x="633.4" y="349.8" font-size="10" font-weight="normal" fill="#000" stroke="#000" stroke-width="0.15" text-anchor="middle" letter-spacing="0.45">14</text>
<text x="658.4" y="349.8" font-size="10" font-weight="normal" fill="#000" stroke="#000" stroke-width="0.15" text-anchor="middle" letter-spacing="0.45">21</text>
<text x="683.4" y="349.8" font-size="10" font-weight="normal" fill="#000" stroke="#000" stroke-width="0.15" text-anchor="middle" letter-spacing="0.45">28</text>
<text x="703.5" y="349.8" font-size="11" font-weight="bold" fill="#000" stroke="#000" stroke-width="0.15" text-anchor="middle" >Nov</text>
<text x="43.5" y="580.8" font-size="11" font-weight="bold" fill="#000" stroke="#000" stroke-width="0.15" text-anchor="middle" >May</text>
<text x="58.4" y="580.8" font-size="10" font-weight="normal" fill="#000" stroke="#000" stroke-width="0.15" text-anchor="middle" letter-spacing="0.45">6</text>
<text x="83.4" y="580.8" font-size="10" font-weight="normal" fill="#000" stroke="#000" stroke-width="0.15" text-anchor="middle" letter-spacing="0.45">13</text>
<text x="108.4" y="580.8" font-size="10" font-weight="normal" fill="#000" stroke="#000" stroke-width="0.15" text-anchor="middle" letter-spacing="0.45">20</text>
<text x="133.4" y="580.8" font-size="10" font-weight="normal" fill="#000" stroke="#000" stroke-width="0.15" text-anchor="middle" letter-spacing="0.45">27</text>
<text x="158.5" y="580.8" font-size="11" font-weight="bold" fill="#000" stroke="#000" stroke-width="0.15" text-anchor="middle" >Jun</text>
<text x="183.4" y="580.8" font-size="10" font-weight="normal" fill="#000" stroke="#000" stroke-width="0.15" text-anchor="middle" letter-spacing="0.45">10</text>
<text x="208.4" y="580.8" font-size="10" font-weight="normal" fill="#000" stroke="#000" stroke-width="0.15" text-anchor="middle" letter-spacing="0.45">17</text>
<text x="233.4" y="580.8" font-size="10" font-weight="normal" fill="#000" stroke="#000" stroke-width="0.15" text-anchor="middle" letter-spacing="0.45">24</text>
<text x="258.5" y="580.8" font-size="11" font-weight="bold" fill="#000" stroke="#000" stroke-width="0.15" text-anchor="middle" >Jul</text>
<text x="283.4" y="580.8" font-size="10" font-weight="normal" fill="#000" stroke="#000" stroke-width="0.15" text-anchor="middle" letter-spacing="0.45">8</text>
<text x="308.4" y="580.8" font-size="10" font-weight="normal" fill="#000" stroke="#000" stroke-width="0.15" text-anchor="middle" letter-spacing="0.45">15</text>
<text x="333.4" y="580.8" font-size="10" font-weight="normal" fill="#000" stroke="#000" stroke-width="0.15" text-anchor="middle" letter-spacing="0.45">22</text>
<text x="358.4" y="580.8" font-size="10" font-weight="normal" fill="#000" stroke="#000" stroke-width="0.15" text-anchor="middle" letter-spacing="0.45">29</text>
<text x="375.0" y="580.8" font-size="11" font-weight="bold" fill="#000" stroke="#000" stroke-width="0.15" text-anchor="middle" >Aug</text>
<text x="408.4" y="580.8" font-size="10" font-weight="normal" fill="#000" stroke="#000" stroke-width="0.15" text-anchor="middle" letter-spacing="0.45">12</text>
<text x="433.4" y="580.8" font-size="10" font-weight="normal" fill="#000" stroke="#000" stroke-width="0.15" text-anchor="middle" letter-spacing="0.45">19</text>
<text x="458.4" y="580.8" font-size="10" font-weight="normal" fill="#000" stroke="#000" stroke-width="0.15" text-anchor="middle" letter-spacing="0.45">26</text>
<text x="483.5" y="580.8" font-size="11" font-weight="bold" fill="#000" stroke="#000" stroke-width="0.15" text-anchor="middle" >Sep</text>
<text x="508.4" y="580.8" font-size="10" font-weight="normal" fill="#000" stroke="#000" stroke-width="0.15" text-anchor="middle" letter-spacing="0.45">9</text>
<text x="533.4" y="580.8" font-size="10" font-weight="normal" fill="#000" stroke="#000" stroke-width="0.15" text-anchor="middle" letter-spacing="0.45">16</text>
<text x="558.4" y="580.8" font-size="10" font-weight="normal" fill="#000" stroke="#000" stroke-width="0.15" text-anchor="middle" letter-spacing="0.45">23</text>
<text x="588.5" y="580.8" font-size="11" font-weight="bold" fill="#000" stroke="#000" stroke-width="0.15" text-anchor="middle" >Oct</text>
<text x="608.4" y="580.8" font-size="10" font-weight="normal" fill="#000" stroke="#000" stroke-width="0.15" text-anchor="middle" letter-spacing="0.45">7</text>
<text x="633.4" y="580.8" font-size="10" font-weight="normal" fill="#000" stroke="#000" stroke-width="0.15" text-anchor="middle" letter-spacing="0.45">14</text>
<text x="658.4" y="580.8" font-size="10" font-weight="normal" fill="#000" stroke="#000" stroke-width="0.15" text-anchor="middle" letter-spacing="0.45">21</text>
<text x="683.4" y="580.8" font-size="10" font-weight="normal" fill="#000" stroke="#000" stroke-width="0.15" text-anchor="middle" letter-spacing="0.45">28</text>
<text x="703.5" y="580.8" font-size="11" font-weight="bold" fill="#000" stroke="#000" stroke-width="0.15" text-anchor="middle" >Nov</text>
<text x="57.00" y="197.5" font-size="13.2" font-weight="bold" fill="#000" stroke="#000" stroke-width="0.15" textLength="371.60" lengthAdjust="spacingAndGlyphs" >USD faces resistance at late Jun highs (105.70 - 105.80),</text>
<text x="57.00" y="213.4" font-size="13.2" font-weight="bold" fill="#000" stroke="#000" stroke-width="0.15" textLength="346.10" lengthAdjust="spacingAndGlyphs" >and if the Fed does a hawkish cut (they are aware of</text>
<text x="57.00" y="229.4" font-size="13.2" font-weight="bold" fill="#000" stroke="#000" stroke-width="0.15" textLength="372.90" lengthAdjust="spacingAndGlyphs" >future inflation and what inflation expectations are to do</text>
<text x="57.00" y="245.3" font-size="13.2" font-weight="bold" fill="#000" stroke="#000" stroke-width="0.15" textLength="314.80" lengthAdjust="spacingAndGlyphs" >in the absence of recession), then that will bare</text>
<text x="57.00" y="261.3" font-size="13.2" font-weight="bold" fill="#000" stroke="#000" stroke-width="0.15" textLength="370.60" lengthAdjust="spacingAndGlyphs" >minimum secure a fast meeting with the said resistance</text>
<text x="57.00" y="277.2" font-size="13.2" font-weight="bold" fill="#000" stroke="#000" stroke-width="0.15" textLength="324.60" lengthAdjust="spacingAndGlyphs" >when ROW (rest of the world) can't keep as tight.</text>
<text x="461.70" y="62.3" font-size="17.3" font-weight="bold" fill="#000" stroke="#000" stroke-width="0.15" textLength="159.50" lengthAdjust="spacingAndGlyphs" >monicakingsley.co</text>
</g>
</svg>
</body></html>
